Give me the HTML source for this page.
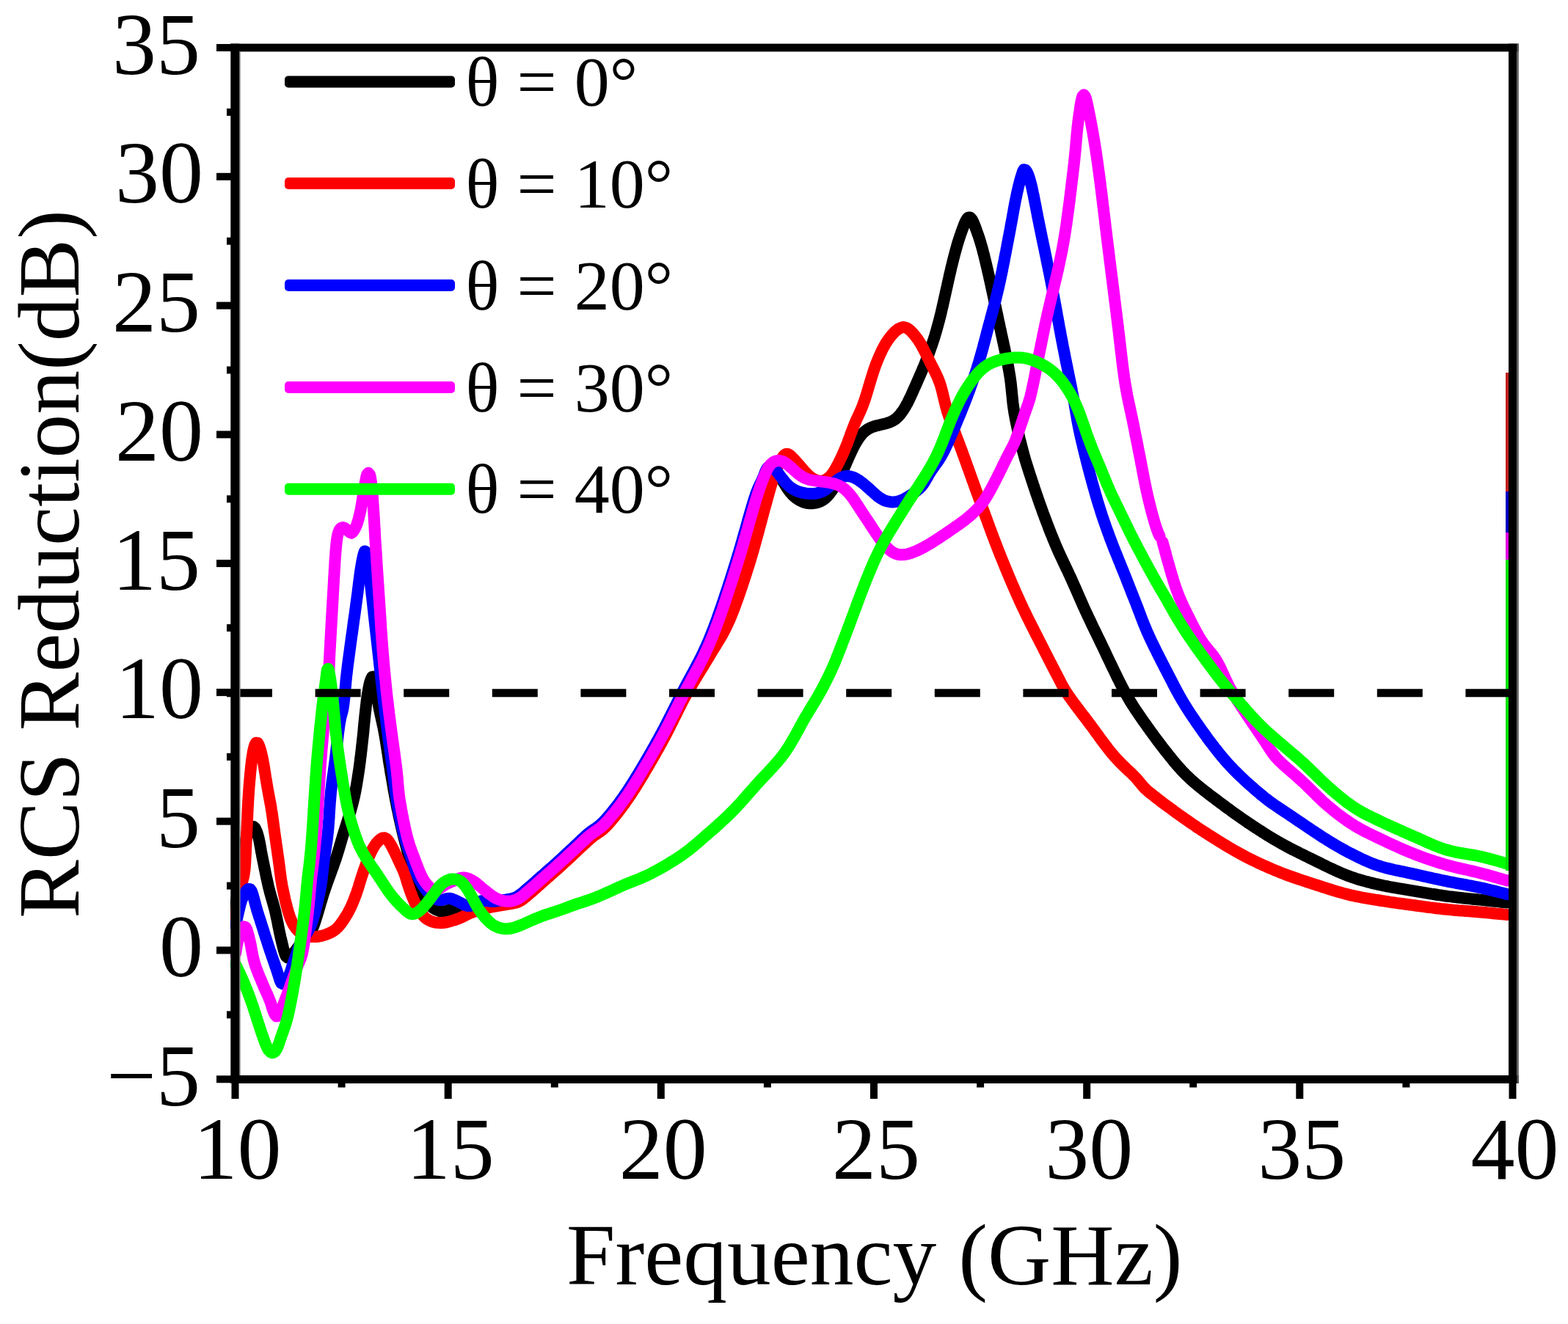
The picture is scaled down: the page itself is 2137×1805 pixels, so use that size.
<!DOCTYPE html>
<html><head><meta charset="utf-8"><title>RCS Reduction vs Frequency</title>
<style>html,body{margin:0;padding:0;background:#fff;}svg{display:block;}</style>
</head><body>
<svg xmlns="http://www.w3.org/2000/svg" width="2137" height="1805" viewBox="0 0 2137 1805">
<rect width="2137" height="1805" fill="#ffffff"/>
<defs><clipPath id="pc"><rect x="314" y="59" width="1753" height="1418"/></clipPath></defs>
<g clip-path="url(#pc)" fill="none" stroke-linejoin="round" stroke-linecap="round">
<path d="M321.0,1235.0 321.4,1232.0 321.9,1229.1 322.3,1226.1 322.8,1223.1 323.2,1220.2 323.6,1217.2 324.1,1214.2 324.5,1211.3 325.0,1208.3 325.4,1205.3 325.8,1202.4 326.3,1199.4 326.7,1196.4 327.2,1193.4 327.6,1190.5 328.1,1187.5 328.5,1184.5 328.9,1181.6 329.4,1178.6 329.9,1175.6 330.3,1172.7 330.8,1169.7 331.2,1166.8 331.7,1163.8 332.2,1160.8 332.7,1157.9 333.2,1154.9 333.7,1151.9 334.2,1149.0 334.8,1146.1 335.4,1143.1 336.1,1140.2 337.0,1137.4 338.1,1134.6 339.4,1131.9 341.0,1129.4 342.9,1127.2 345.6,1126.9 347.7,1129.0 349.0,1131.7 350.2,1134.5 351.1,1137.3 351.9,1140.2 352.7,1143.1 353.3,1146.0 353.9,1149.0 354.4,1151.9 355.0,1154.9 355.5,1157.8 356.0,1160.8 356.6,1163.7 357.1,1166.7 357.7,1169.6 358.3,1172.5 358.9,1175.5 359.5,1178.4 360.1,1181.4 360.7,1184.3 361.3,1187.2 361.9,1190.2 362.5,1193.1 363.1,1196.1 363.8,1199.0 364.4,1201.9 365.1,1204.9 365.7,1207.8 366.4,1210.7 367.2,1213.6 367.9,1216.5 368.7,1219.4 369.5,1222.3 370.4,1225.2 371.2,1228.0 372.0,1230.9 372.8,1233.8 373.6,1236.7 374.4,1239.6 375.1,1242.5 375.8,1245.5 376.4,1248.4 377.0,1251.3 377.7,1254.3 378.3,1257.2 378.8,1260.1 379.4,1263.1 380.0,1266.0 380.6,1269.0 381.2,1271.9 381.9,1274.8 382.5,1277.8 383.2,1280.7 383.9,1283.6 384.6,1286.5 385.3,1289.4 386.0,1292.4 386.8,1295.3 387.6,1298.1 388.5,1301.0 389.8,1303.7 392.0,1305.5 394.7,1304.7 397.0,1302.8 399.0,1300.7 400.9,1298.4 402.8,1296.0 404.5,1293.6 406.3,1291.2 408.0,1288.7 409.9,1286.4 411.8,1284.1 413.8,1281.9 415.9,1279.7 417.9,1277.4 419.8,1275.1 421.6,1272.8 423.3,1270.3 424.9,1267.8 426.2,1265.1 427.4,1262.4 428.4,1259.6 429.4,1256.7 430.3,1253.9 431.2,1251.0 432.1,1248.1 432.9,1245.3 433.8,1242.4 434.6,1239.5 435.5,1236.6 436.3,1233.7 437.1,1230.8 438.0,1228.0 438.9,1225.1 439.7,1222.2 440.6,1219.4 441.5,1216.5 442.5,1213.7 443.4,1210.8 444.4,1208.0 445.4,1205.1 446.4,1202.3 447.4,1199.5 448.4,1196.7 449.5,1193.8 450.5,1191.0 451.5,1188.2 452.5,1185.4 453.6,1182.6 454.6,1179.7 455.6,1176.9 456.6,1174.1 457.6,1171.3 458.5,1168.4 459.4,1165.6 460.3,1162.7 461.2,1159.8 462.1,1156.9 462.9,1154.1 463.7,1151.2 464.6,1148.3 465.4,1145.4 466.3,1142.5 467.1,1139.7 468.0,1136.8 468.9,1133.9 469.8,1131.1 470.7,1128.2 471.6,1125.4 472.5,1122.5 473.4,1119.6 474.4,1116.8 475.3,1113.9 476.1,1111.0 477.0,1108.2 477.9,1105.3 478.7,1102.4 479.5,1099.5 480.3,1096.6 481.0,1093.7 481.7,1090.8 482.4,1087.9 483.1,1085.0 483.7,1082.0 484.3,1079.1 484.8,1076.1 485.4,1073.2 485.9,1070.2 486.4,1067.3 486.9,1064.3 487.4,1061.3 487.8,1058.4 488.3,1055.4 488.7,1052.5 489.2,1049.5 489.6,1046.5 490.0,1043.5 490.4,1040.6 490.8,1037.6 491.1,1034.6 491.5,1031.6 491.9,1028.7 492.2,1025.7 492.6,1022.7 492.9,1019.7 493.2,1016.7 493.6,1013.7 493.9,1010.8 494.2,1007.8 494.6,1004.8 494.9,1001.8 495.2,998.8 495.5,995.8 495.7,992.9 496.0,989.9 496.3,986.9 496.6,983.9 496.9,980.9 497.2,977.9 497.5,974.9 497.8,972.0 498.2,969.0 498.5,966.0 498.8,963.0 499.2,960.0 499.5,957.1 499.9,954.1 500.3,951.1 500.7,948.1 501.2,945.2 501.7,942.2 502.2,939.3 502.8,936.3 503.4,933.4 504.1,930.5 505.0,927.7 506.0,925.1 507.2,922.8 508.8,922.5 510.0,924.7 510.9,927.4 511.6,930.3 512.1,933.2 512.6,936.2 513.0,939.1 513.3,942.1 513.7,945.1 514.0,948.1 514.4,951.0 514.8,954.0 515.2,957.0 515.7,960.0 516.2,962.9 516.8,965.9 517.4,968.8 518.0,971.7 518.6,974.7 519.3,977.6 519.9,980.5 520.6,983.5 521.2,986.4 521.9,989.3 522.5,992.3 523.1,995.2 523.6,998.1 524.2,1001.1 524.7,1004.0 525.2,1007.0 525.7,1010.0 526.2,1012.9 526.6,1015.9 527.1,1018.9 527.6,1021.8 528.0,1024.8 528.5,1027.7 528.9,1030.7 529.4,1033.7 529.8,1036.6 530.3,1039.6 530.8,1042.6 531.3,1045.5 531.8,1048.5 532.2,1051.5 532.7,1054.4 533.3,1057.4 533.8,1060.3 534.3,1063.3 534.8,1066.2 535.3,1069.2 535.8,1072.2 536.3,1075.1 536.8,1078.1 537.4,1081.0 537.9,1084.0 538.5,1086.9 539.0,1089.9 539.6,1092.8 540.2,1095.8 540.7,1098.7 541.3,1101.6 542.0,1104.6 542.6,1107.5 543.2,1110.4 543.8,1113.4 544.5,1116.3 545.1,1119.2 545.8,1122.2 546.5,1125.1 547.1,1128.0 547.8,1130.9 548.5,1133.9 549.2,1136.8 549.9,1139.7 550.6,1142.6 551.4,1145.5 552.1,1148.4 552.9,1151.3 553.6,1154.2 554.4,1157.1 555.1,1160.0 555.9,1162.9 556.7,1165.8 557.5,1168.7 558.3,1171.6 559.2,1174.5 560.0,1177.4 560.9,1180.2 561.8,1183.1 562.7,1186.0 563.6,1188.8 564.6,1191.7 565.6,1194.5 566.6,1197.3 567.6,1200.1 568.6,1202.9 569.7,1205.7 570.8,1208.5 572.0,1211.3 573.2,1214.0 574.4,1216.8 575.8,1219.5 577.2,1222.1 578.7,1224.7 580.3,1227.2 582.0,1229.7 583.9,1232.0 585.9,1234.2 588.1,1236.2 590.5,1238.0 593.0,1239.6 595.7,1240.8 598.5,1241.8 601.4,1242.4 604.3,1242.5 607.2,1242.2 610.0,1241.3 612.8,1240.3 615.5,1239.1 618.4,1238.2 621.3,1237.6 624.2,1237.2 627.2,1237.1 630.2,1237.1 633.2,1237.4 636.1,1237.8 639.1,1238.4 642.0,1239.0 644.9,1239.5 647.9,1239.7 650.9,1239.6 653.8,1239.2 656.7,1238.6 659.7,1237.9 662.5,1237.0 665.4,1236.1 668.2,1235.1 671.0,1234.0 673.8,1232.9 676.6,1232.0 679.5,1231.1 682.4,1230.4 685.3,1229.8 688.3,1229.2 691.2,1228.7 694.2,1228.2 697.1,1227.6 700.0,1226.9 702.8,1225.8 705.4,1224.5 707.9,1222.8 710.3,1221.0 712.6,1219.1 714.9,1217.2 717.2,1215.3 719.5,1213.3 721.7,1211.4 724.0,1209.4 726.3,1207.4 728.5,1205.4 730.7,1203.4 733.0,1201.4 735.2,1199.4 737.5,1197.4 739.7,1195.5 742.0,1193.5 744.2,1191.5 746.5,1189.5 748.7,1187.5 751.0,1185.6 753.2,1183.6 755.5,1181.6 757.7,1179.6 760.0,1177.6 762.2,1175.5 764.4,1173.5 766.6,1171.5 768.8,1169.4 771.0,1167.4 773.2,1165.3 775.4,1163.3 777.6,1161.2 779.7,1159.2 781.9,1157.1 784.1,1155.1 786.3,1153.0 788.5,1151.0 790.7,1148.9 792.9,1146.9 795.0,1144.8 797.3,1142.8 799.5,1140.8 801.8,1138.8 804.1,1137.0 806.5,1135.2 809.0,1133.5 811.5,1131.8 813.9,1130.1 816.3,1128.3 818.6,1126.4 820.8,1124.4 822.9,1122.3 824.9,1120.1 826.9,1117.8 828.9,1115.6 830.8,1113.3 832.7,1111.0 834.6,1108.6 836.5,1106.3 838.4,1103.9 840.2,1101.6 842.0,1099.2 843.8,1096.8 845.6,1094.4 847.3,1091.9 849.1,1089.5 850.8,1087.0 852.5,1084.5 854.2,1082.1 855.8,1079.6 857.5,1077.1 859.1,1074.5 860.7,1072.0 862.3,1069.5 863.9,1066.9 865.5,1064.4 867.1,1061.8 868.6,1059.3 870.2,1056.7 871.7,1054.1 873.3,1051.5 874.8,1049.0 876.3,1046.4 877.8,1043.8 879.4,1041.2 880.9,1038.6 882.4,1036.0 883.9,1033.4 885.4,1030.8 886.9,1028.2 888.4,1025.6 889.8,1023.0 891.3,1020.4 892.8,1017.8 894.3,1015.2 895.7,1012.5 897.2,1009.9 898.6,1007.3 900.1,1004.6 901.5,1002.0 902.9,999.4 904.3,996.7 905.7,994.1 907.1,991.4 908.5,988.7 909.8,986.1 911.2,983.4 912.5,980.7 913.9,978.0 915.2,975.3 916.6,972.7 917.9,970.0 919.3,967.3 920.6,964.6 921.9,961.9 923.3,959.2 924.6,956.6 926.0,953.9 927.3,951.2 928.7,948.5 930.1,945.9 931.5,943.2 932.9,940.5 934.3,937.9 935.7,935.3 937.1,932.6 938.5,930.0 940.0,927.3 941.4,924.7 942.9,922.1 944.3,919.4 945.7,916.8 947.1,914.2 948.6,911.5 950.0,908.9 951.4,906.2 952.7,903.5 954.1,900.9 955.4,898.2 956.7,895.5 958.0,892.8 959.3,890.1 960.6,887.3 961.8,884.6 963.1,881.9 964.3,879.1 965.5,876.4 966.6,873.6 967.8,870.8 968.9,868.1 970.0,865.3 971.1,862.5 972.2,859.7 973.3,856.9 974.3,854.1 975.3,851.2 976.4,848.4 977.4,845.6 978.4,842.8 979.4,840.0 980.4,837.1 981.4,834.3 982.4,831.5 983.4,828.6 984.3,825.8 985.3,822.9 986.2,820.1 987.2,817.3 988.2,814.4 989.1,811.6 990.0,808.7 991.0,805.9 991.9,803.0 992.8,800.2 993.8,797.3 994.7,794.4 995.6,791.6 996.5,788.7 997.4,785.9 998.3,783.0 999.2,780.2 1000.1,777.3 1001.0,774.4 1001.9,771.6 1002.8,768.7 1003.7,765.8 1004.6,763.0 1005.5,760.1 1006.3,757.2 1007.2,754.3 1008.0,751.5 1008.9,748.6 1009.7,745.7 1010.5,742.8 1011.3,739.9 1012.1,737.0 1013.0,734.1 1013.8,731.3 1014.6,728.4 1015.4,725.5 1016.2,722.6 1017.0,719.7 1017.8,716.8 1018.6,713.9 1019.4,711.0 1020.2,708.1 1021.0,705.2 1021.9,702.4 1022.7,699.5 1023.5,696.6 1024.4,693.7 1025.3,690.9 1026.1,688.0 1027.1,685.1 1028.0,682.3 1029.0,679.5 1030.0,676.6 1031.1,673.8 1032.2,671.1 1033.4,668.3 1034.7,665.6 1036.1,663.0 1037.5,660.4 1039.1,657.8 1040.6,655.2 1042.2,652.7 1043.9,650.2 1045.6,647.9 1047.4,645.9 1049.3,644.3 1051.3,643.3 1053.5,643.1 1055.7,643.6 1057.9,644.8 1059.9,646.5 1061.8,648.6 1063.6,650.9 1065.3,653.4 1066.9,655.9 1068.4,658.5 1070.0,661.0 1071.6,663.6 1073.2,666.1 1074.9,668.5 1076.7,670.9 1078.7,673.1 1080.7,675.3 1082.9,677.3 1085.2,679.1 1087.6,680.8 1090.2,682.3 1092.8,683.6 1095.6,684.7 1098.4,685.5 1101.3,686.0 1104.2,686.3 1107.1,686.2 1110.0,685.9 1112.9,685.3 1115.7,684.5 1118.4,683.4 1121.0,682.0 1123.4,680.4 1125.6,678.5 1127.7,676.4 1129.7,674.2 1131.5,671.9 1133.3,669.5 1135.0,667.0 1136.6,664.5 1138.2,661.9 1139.8,659.4 1141.2,656.8 1142.7,654.1 1144.1,651.5 1145.4,648.8 1146.8,646.1 1148.0,643.4 1149.3,640.7 1150.5,637.9 1151.7,635.2 1152.9,632.5 1154.1,629.7 1155.3,627.0 1156.5,624.2 1157.7,621.5 1159.0,618.7 1160.2,616.0 1161.5,613.3 1162.8,610.6 1164.2,607.9 1165.6,605.3 1167.1,602.7 1168.7,600.1 1170.3,597.7 1172.1,595.2 1173.9,592.9 1175.9,590.7 1178.0,588.6 1180.3,586.8 1182.7,585.1 1185.3,583.7 1187.9,582.5 1190.7,581.5 1193.6,580.6 1196.4,579.9 1199.4,579.2 1202.3,578.5 1205.2,577.9 1208.1,577.1 1210.9,576.2 1213.7,575.2 1216.3,573.9 1218.8,572.4 1221.2,570.7 1223.4,568.7 1225.4,566.6 1227.3,564.3 1229.1,561.9 1230.8,559.5 1232.4,557.0 1234.0,554.4 1235.4,551.8 1236.9,549.2 1238.2,546.5 1239.5,543.8 1240.8,541.1 1242.1,538.4 1243.3,535.6 1244.5,532.9 1245.7,530.1 1247.0,527.4 1248.2,524.6 1249.4,521.9 1250.6,519.1 1251.8,516.4 1253.0,513.6 1254.2,510.9 1255.4,508.1 1256.6,505.4 1257.7,502.6 1258.9,499.9 1260.1,497.1 1261.2,494.3 1262.3,491.5 1263.4,488.7 1264.5,485.9 1265.5,483.1 1266.5,480.3 1267.5,477.5 1268.5,474.6 1269.5,471.8 1270.5,469.0 1271.4,466.1 1272.4,463.3 1273.3,460.4 1274.2,457.6 1275.0,454.7 1275.9,451.8 1276.7,448.9 1277.5,446.0 1278.3,443.1 1279.1,440.2 1279.9,437.3 1280.6,434.4 1281.3,431.5 1282.1,428.6 1282.8,425.7 1283.4,422.8 1284.1,419.9 1284.8,416.9 1285.5,414.0 1286.1,411.1 1286.8,408.1 1287.4,405.2 1288.1,402.3 1288.7,399.4 1289.4,396.4 1290.0,393.5 1290.7,390.6 1291.3,387.6 1292.0,384.7 1292.6,381.8 1293.3,378.9 1293.9,375.9 1294.6,373.0 1295.3,370.1 1296.0,367.2 1296.6,364.2 1297.4,361.3 1298.1,358.4 1298.8,355.5 1299.5,352.6 1300.3,349.7 1301.0,346.8 1301.8,343.9 1302.6,341.0 1303.4,338.1 1304.2,335.2 1305.0,332.3 1305.9,329.5 1306.8,326.6 1307.8,323.7 1308.7,320.9 1309.7,318.1 1310.7,315.2 1311.7,312.4 1312.8,309.6 1313.8,306.8 1315.0,304.0 1316.2,301.3 1317.7,298.7 1319.7,296.5 1322.4,296.6 1324.4,298.8 1325.8,301.4 1327.1,304.2 1328.2,306.9 1329.3,309.7 1330.3,312.6 1331.3,315.4 1332.3,318.2 1333.3,321.0 1334.3,323.9 1335.2,326.7 1336.1,329.6 1336.9,332.5 1337.8,335.4 1338.6,338.3 1339.4,341.1 1340.1,344.1 1340.9,347.0 1341.6,349.9 1342.3,352.8 1343.0,355.7 1343.7,358.6 1344.4,361.5 1345.1,364.5 1345.8,367.4 1346.4,370.3 1347.1,373.2 1347.8,376.2 1348.4,379.1 1349.1,382.0 1349.7,384.9 1350.4,387.9 1351.0,390.8 1351.6,393.7 1352.3,396.7 1352.9,399.6 1353.5,402.5 1354.2,405.5 1354.8,408.4 1355.4,411.3 1356.0,414.3 1356.7,417.2 1357.3,420.1 1357.9,423.1 1358.5,426.0 1359.2,428.9 1359.8,431.9 1360.4,434.8 1361.0,437.8 1361.7,440.7 1362.3,443.6 1362.9,446.6 1363.6,449.5 1364.2,452.4 1364.8,455.4 1365.5,458.3 1366.1,461.2 1366.7,464.1 1367.4,467.1 1368.0,470.0 1368.6,472.9 1369.3,475.9 1369.9,478.8 1370.5,481.8 1371.1,484.7 1371.7,487.6 1372.3,490.6 1372.9,493.5 1373.5,496.5 1374.0,499.4 1374.6,502.4 1375.1,505.3 1375.6,508.3 1376.1,511.2 1376.6,514.2 1377.0,517.2 1377.4,520.1 1377.8,523.1 1378.1,526.1 1378.4,529.1 1378.7,532.1 1379.0,535.0 1379.3,538.0 1379.6,541.0 1379.9,544.0 1380.2,547.0 1380.5,550.0 1380.9,552.9 1381.3,555.9 1381.8,558.9 1382.2,561.8 1382.7,564.8 1383.3,567.7 1383.8,570.7 1384.4,573.6 1385.0,576.6 1385.6,579.5 1386.2,582.5 1386.9,585.4 1387.5,588.3 1388.2,591.2 1388.9,594.2 1389.5,597.1 1390.2,600.0 1391.0,602.9 1391.7,605.8 1392.4,608.7 1393.2,611.6 1393.9,614.5 1394.7,617.4 1395.5,620.3 1396.3,623.2 1397.1,626.1 1398.0,629.0 1398.9,631.9 1399.8,634.7 1400.7,637.6 1401.6,640.4 1402.5,643.3 1403.4,646.1 1404.4,649.0 1405.3,651.8 1406.2,654.7 1407.2,657.5 1408.1,660.4 1409.1,663.2 1410.0,666.1 1411.0,668.9 1411.9,671.8 1412.9,674.6 1413.9,677.4 1414.9,680.3 1415.9,683.1 1416.8,685.9 1417.9,688.8 1418.9,691.6 1419.9,694.4 1420.9,697.2 1421.9,700.1 1423.0,702.9 1424.0,705.7 1425.1,708.5 1426.1,711.3 1427.2,714.1 1428.3,716.9 1429.3,719.7 1430.4,722.5 1431.5,725.3 1432.6,728.1 1433.8,730.9 1434.9,733.7 1436.0,736.4 1437.2,739.2 1438.3,742.0 1439.5,744.7 1440.7,747.5 1441.9,750.2 1443.1,753.0 1444.4,755.7 1445.6,758.4 1446.9,761.1 1448.2,763.9 1449.4,766.6 1450.7,769.3 1452.0,772.0 1453.3,774.7 1454.6,777.4 1455.9,780.1 1457.1,782.9 1458.4,785.6 1459.6,788.3 1460.9,791.0 1462.1,793.8 1463.3,796.5 1464.5,799.3 1465.8,802.0 1467.0,804.8 1468.2,807.5 1469.4,810.3 1470.6,813.0 1471.8,815.8 1473.0,818.5 1474.2,821.2 1475.4,824.0 1476.6,826.7 1477.9,829.5 1479.1,832.2 1480.4,834.9 1481.6,837.6 1482.9,840.4 1484.2,843.1 1485.5,845.8 1486.8,848.5 1488.0,851.2 1489.3,853.9 1490.6,856.6 1491.9,859.3 1493.3,862.0 1494.6,864.7 1495.9,867.4 1497.2,870.1 1498.5,872.8 1499.8,875.5 1501.1,878.2 1502.4,880.9 1503.7,883.6 1505.0,886.3 1506.3,889.0 1507.6,891.8 1508.8,894.5 1510.1,897.2 1511.4,899.9 1512.7,902.6 1514.0,905.3 1515.3,908.0 1516.6,910.7 1517.9,913.4 1519.2,916.1 1520.5,918.8 1521.8,921.5 1523.1,924.2 1524.5,926.9 1525.8,929.6 1527.2,932.3 1528.5,934.9 1529.9,937.6 1531.3,940.2 1532.7,942.9 1534.2,945.5 1535.7,948.1 1537.2,950.7 1538.7,953.3 1540.2,955.9 1541.8,958.4 1543.4,961.0 1545.0,963.5 1546.6,966.0 1548.3,968.5 1550.0,971.0 1551.7,973.5 1553.4,976.0 1555.1,978.4 1556.8,980.9 1558.5,983.3 1560.3,985.8 1562.0,988.2 1563.7,990.7 1565.5,993.1 1567.2,995.6 1569.0,998.0 1570.7,1000.4 1572.5,1002.9 1574.3,1005.3 1576.1,1007.7 1577.9,1010.1 1579.7,1012.5 1581.5,1014.9 1583.3,1017.3 1585.1,1019.6 1587.0,1022.0 1588.8,1024.4 1590.7,1026.7 1592.6,1029.1 1594.4,1031.4 1596.3,1033.7 1598.2,1036.1 1600.1,1038.4 1602.1,1040.7 1604.0,1042.9 1606.0,1045.2 1608.0,1047.4 1610.0,1049.7 1612.0,1051.9 1614.1,1054.0 1616.2,1056.2 1618.4,1058.3 1620.5,1060.3 1622.7,1062.4 1624.9,1064.4 1627.2,1066.4 1629.5,1068.3 1631.8,1070.3 1634.1,1072.2 1636.4,1074.1 1638.8,1075.9 1641.1,1077.8 1643.5,1079.6 1645.9,1081.4 1648.2,1083.3 1650.6,1085.1 1653.0,1086.9 1655.4,1088.7 1657.8,1090.5 1660.2,1092.3 1662.6,1094.2 1665.0,1095.9 1667.4,1097.7 1669.8,1099.5 1672.2,1101.3 1674.7,1103.1 1677.1,1104.8 1679.5,1106.6 1681.9,1108.4 1684.4,1110.1 1686.8,1111.8 1689.3,1113.6 1691.7,1115.3 1694.2,1117.0 1696.7,1118.7 1699.2,1120.4 1701.6,1122.1 1704.1,1123.7 1706.6,1125.4 1709.1,1127.1 1711.6,1128.7 1714.2,1130.3 1716.7,1132.0 1719.2,1133.6 1721.7,1135.2 1724.3,1136.8 1726.8,1138.4 1729.4,1140.0 1731.9,1141.5 1734.5,1143.1 1737.1,1144.6 1739.7,1146.1 1742.3,1147.6 1744.9,1149.1 1747.5,1150.6 1750.1,1152.0 1752.8,1153.5 1755.4,1154.9 1758.1,1156.3 1760.7,1157.7 1763.4,1159.0 1766.1,1160.4 1768.7,1161.7 1771.4,1163.1 1774.1,1164.4 1776.8,1165.7 1779.5,1167.1 1782.2,1168.4 1784.9,1169.7 1787.6,1171.0 1790.3,1172.3 1793.0,1173.7 1795.7,1175.0 1798.4,1176.3 1801.0,1177.6 1803.7,1179.0 1806.4,1180.3 1809.1,1181.6 1811.8,1182.9 1814.5,1184.2 1817.3,1185.4 1820.0,1186.7 1822.7,1187.9 1825.5,1189.2 1828.2,1190.3 1831.0,1191.5 1833.8,1192.6 1836.6,1193.7 1839.4,1194.8 1842.2,1195.8 1845.0,1196.7 1847.9,1197.7 1850.7,1198.6 1853.6,1199.5 1856.5,1200.3 1859.4,1201.1 1862.3,1201.9 1865.2,1202.6 1868.1,1203.4 1871.0,1204.1 1873.9,1204.8 1876.8,1205.4 1879.8,1206.1 1882.7,1206.7 1885.6,1207.4 1888.6,1208.0 1891.5,1208.5 1894.5,1209.1 1897.4,1209.6 1900.4,1210.2 1903.3,1210.7 1906.3,1211.2 1909.3,1211.6 1912.2,1212.1 1915.2,1212.6 1918.1,1213.1 1921.1,1213.6 1924.1,1214.1 1927.0,1214.6 1930.0,1215.1 1932.9,1215.6 1935.9,1216.1 1938.9,1216.6 1941.8,1217.1 1944.8,1217.6 1947.7,1218.1 1950.7,1218.6 1953.7,1219.0 1956.6,1219.5 1959.6,1220.0 1962.5,1220.4 1965.5,1220.8 1968.5,1221.3 1971.5,1221.7 1974.4,1222.1 1977.4,1222.4 1980.4,1222.8 1983.4,1223.1 1986.4,1223.5 1989.3,1223.8 1992.3,1224.1 1995.3,1224.5 1998.3,1224.8 2001.3,1225.1 2004.3,1225.4 2007.2,1225.7 2010.2,1226.0 2013.2,1226.3 2016.2,1226.6 2019.2,1226.9 2022.2,1227.2 2025.1,1227.6 2028.1,1227.9 2031.1,1228.2 2034.1,1228.5 2037.1,1228.8 2040.1,1229.1 2043.1,1229.4 2046.0,1229.7 2049.0,1230.0 2052.0,1230.3 2054.0,1230.5" stroke="#000000" stroke-width="16"/>
<path d="M321.0,1250.0 321.4,1247.0 321.8,1244.1 322.2,1241.1 322.5,1238.1 322.9,1235.1 323.3,1232.2 323.7,1229.2 324.2,1226.2 324.6,1223.2 325.1,1220.3 325.6,1217.3 326.2,1214.4 327.0,1211.5 327.8,1208.6 328.8,1205.8 329.8,1203.0 330.7,1200.1 331.5,1197.2 332.2,1194.3 332.7,1191.4 333.1,1188.4 333.5,1185.4 333.8,1182.4 334.0,1179.4 334.2,1176.4 334.4,1173.4 334.5,1170.5 334.7,1167.5 334.8,1164.5 335.0,1161.5 335.1,1158.5 335.2,1155.5 335.4,1152.5 335.5,1149.5 335.6,1146.5 335.8,1143.5 335.9,1140.5 336.1,1137.5 336.2,1134.5 336.4,1131.5 336.5,1128.5 336.7,1125.5 336.8,1122.5 336.9,1119.5 337.1,1116.5 337.2,1113.5 337.3,1110.5 337.5,1107.5 337.6,1104.5 337.7,1101.5 337.9,1098.5 338.1,1095.5 338.2,1092.5 338.4,1089.5 338.6,1086.5 338.8,1083.6 339.0,1080.6 339.2,1077.6 339.4,1074.6 339.6,1071.6 339.9,1068.6 340.1,1065.6 340.4,1062.6 340.7,1059.6 340.9,1056.6 341.2,1053.7 341.5,1050.7 341.8,1047.7 342.1,1044.7 342.5,1041.7 342.8,1038.7 343.2,1035.8 343.6,1032.8 344.1,1029.8 344.6,1026.9 345.1,1023.9 345.8,1021.0 346.5,1018.1 347.4,1015.3 348.9,1012.7 351.3,1013.0 352.7,1015.6 353.8,1018.4 354.7,1021.2 355.5,1024.1 356.2,1027.0 356.9,1029.9 357.6,1032.9 358.2,1035.8 358.7,1038.7 359.3,1041.7 359.8,1044.7 360.2,1047.6 360.7,1050.6 361.2,1053.5 361.7,1056.5 362.1,1059.5 362.6,1062.4 363.1,1065.4 363.6,1068.4 364.1,1071.3 364.6,1074.3 365.1,1077.2 365.7,1080.2 366.2,1083.1 366.8,1086.1 367.3,1089.0 367.9,1092.0 368.4,1094.9 369.0,1097.9 369.5,1100.8 369.9,1103.8 370.4,1106.7 370.9,1109.7 371.3,1112.7 371.7,1115.7 372.1,1118.6 372.5,1121.6 372.9,1124.6 373.3,1127.5 373.7,1130.5 374.1,1133.5 374.5,1136.5 374.9,1139.4 375.3,1142.4 375.8,1145.4 376.2,1148.4 376.6,1151.3 377.0,1154.3 377.5,1157.3 377.9,1160.2 378.3,1163.2 378.7,1166.2 379.2,1169.1 379.6,1172.1 380.0,1175.1 380.4,1178.1 380.8,1181.0 381.2,1184.0 381.5,1187.0 381.9,1190.0 382.3,1192.9 382.7,1195.9 383.1,1198.9 383.6,1201.8 384.1,1204.8 384.6,1207.8 385.2,1210.7 385.8,1213.6 386.4,1216.6 387.0,1219.5 387.7,1222.4 388.3,1225.4 389.0,1228.3 389.7,1231.2 390.5,1234.1 391.2,1237.0 392.0,1239.9 392.8,1242.8 393.7,1245.7 394.6,1248.5 395.6,1251.4 396.7,1254.1 397.9,1256.9 399.2,1259.5 400.7,1262.1 402.4,1264.6 404.3,1266.9 406.4,1269.0 408.6,1271.0 411.1,1272.7 413.7,1274.1 416.4,1275.2 419.3,1276.1 422.2,1276.7 425.1,1277.0 428.1,1277.1 431.1,1277.0 434.1,1276.7 437.0,1276.2 439.9,1275.4 442.8,1274.6 445.6,1273.5 448.3,1272.4 451.1,1271.1 453.7,1269.7 456.2,1268.0 458.5,1266.2 460.6,1264.1 462.5,1261.8 464.4,1259.5 466.2,1257.0 467.9,1254.6 469.5,1252.1 471.1,1249.5 472.7,1247.0 474.2,1244.4 475.6,1241.7 477.0,1239.1 478.3,1236.4 479.5,1233.7 480.7,1230.9 481.9,1228.1 483.0,1225.3 484.0,1222.5 485.1,1219.7 486.1,1216.9 487.0,1214.0 488.0,1211.2 488.9,1208.3 489.7,1205.5 490.6,1202.6 491.5,1199.7 492.4,1196.9 493.3,1194.0 494.3,1191.2 495.2,1188.3 496.2,1185.5 497.2,1182.7 498.2,1179.8 499.3,1177.0 500.3,1174.2 501.5,1171.4 502.6,1168.7 503.8,1165.9 505.0,1163.2 506.3,1160.5 507.7,1157.8 509.1,1155.2 510.7,1152.7 512.5,1150.2 514.4,1147.9 516.4,1145.8 518.7,1143.9 521.3,1142.4 524.2,1142.2 526.8,1143.6 528.9,1145.8 530.6,1148.2 532.2,1150.7 533.6,1153.3 535.0,1156.0 536.4,1158.7 537.7,1161.4 539.0,1164.1 540.3,1166.8 541.6,1169.5 542.8,1172.2 544.1,1174.9 545.3,1177.7 546.6,1180.4 547.9,1183.1 549.2,1185.8 550.3,1188.6 551.4,1191.4 552.4,1194.2 553.3,1197.1 554.1,1199.9 555.0,1202.8 555.9,1205.7 556.9,1208.5 557.8,1211.3 558.8,1214.2 559.8,1217.0 560.9,1219.8 562.0,1222.6 563.1,1225.4 564.3,1228.2 565.5,1230.9 566.9,1233.5 568.3,1236.2 569.9,1238.8 571.5,1241.3 573.1,1243.8 574.9,1246.2 576.9,1248.4 578.9,1250.6 581.2,1252.5 583.7,1254.1 586.3,1255.4 589.1,1256.5 592.0,1257.3 594.9,1257.8 597.9,1258.1 600.9,1258.2 603.8,1258.0 606.8,1257.5 609.7,1257.0 612.6,1256.3 615.5,1255.4 618.4,1254.6 621.2,1253.6 624.1,1252.6 626.8,1251.5 629.6,1250.3 632.3,1249.0 634.9,1247.6 637.6,1246.3 640.3,1245.0 643.1,1243.9 645.9,1242.9 648.8,1241.9 651.6,1241.0 654.5,1240.2 657.4,1239.4 660.3,1238.6 663.2,1237.9 666.1,1237.3 669.1,1236.6 672.0,1236.0 675.0,1235.5 677.9,1235.0 680.9,1234.5 683.8,1234.0 686.8,1233.5 689.8,1233.0 692.7,1232.5 695.7,1232.1 698.6,1231.6 701.6,1231.0 704.4,1230.2 707.2,1229.1 709.8,1227.7 712.3,1226.1 714.6,1224.3 717.0,1222.4 719.3,1220.4 721.5,1218.5 723.8,1216.5 726.1,1214.6 728.3,1212.6 730.6,1210.6 732.8,1208.6 735.1,1206.6 737.3,1204.6 739.6,1202.6 741.8,1200.6 744.1,1198.7 746.3,1196.7 748.6,1194.7 750.8,1192.7 753.1,1190.7 755.3,1188.8 757.6,1186.8 759.8,1184.8 762.1,1182.8 764.3,1180.8 766.5,1178.7 768.7,1176.7 770.9,1174.7 773.1,1172.6 775.3,1170.6 777.5,1168.5 779.7,1166.5 781.9,1164.4 784.1,1162.4 786.3,1160.3 788.4,1158.3 790.6,1156.2 792.8,1154.2 795.0,1152.1 797.2,1150.1 799.4,1148.0 801.6,1146.0 803.8,1144.0 806.1,1142.1 808.5,1140.2 810.9,1138.4 813.3,1136.7 815.8,1135.1 818.3,1133.4 820.6,1131.6 822.9,1129.6 825.1,1127.6 827.2,1125.5 829.2,1123.2 831.2,1121.0 833.2,1118.7 835.1,1116.4 837.0,1114.1 838.9,1111.8 840.8,1109.5 842.6,1107.1 844.5,1104.7 846.3,1102.3 848.1,1099.9 849.8,1097.5 851.6,1095.1 853.3,1092.6 855.0,1090.2 856.7,1087.7 858.4,1085.2 860.1,1082.7 861.7,1080.2 863.3,1077.7 865.0,1075.1 866.6,1072.6 868.1,1070.1 869.7,1067.5 871.3,1065.0 872.8,1062.4 874.4,1059.8 875.9,1057.3 877.5,1054.7 879.0,1052.1 880.5,1049.5 882.1,1046.9 883.6,1044.3 885.1,1041.7 886.6,1039.1 888.1,1036.6 889.6,1034.0 891.1,1031.3 892.6,1028.7 894.0,1026.1 895.5,1023.5 897.0,1020.9 898.5,1018.3 899.9,1015.7 901.4,1013.0 902.8,1010.4 904.2,1007.8 905.7,1005.1 907.1,1002.5 908.5,999.8 909.8,997.2 911.2,994.5 912.5,991.8 913.9,989.1 915.2,986.4 916.6,983.8 917.9,981.1 919.2,978.4 920.6,975.7 921.9,973.0 923.2,970.3 924.6,967.6 925.9,965.0 927.3,962.3 928.6,959.6 930.0,956.9 931.4,954.3 932.8,951.6 934.3,949.0 935.7,946.4 937.2,943.8 938.7,941.2 940.2,938.6 941.7,936.0 943.2,933.4 944.7,930.8 946.3,928.2 947.8,925.7 949.4,923.1 950.9,920.5 952.5,918.0 954.1,915.4 955.6,912.9 957.2,910.3 958.8,907.7 960.3,905.2 961.9,902.6 963.4,900.0 965.0,897.5 966.5,894.9 968.0,892.3 969.6,889.7 971.1,887.2 972.7,884.6 974.3,882.1 975.9,879.5 977.4,877.0 979.0,874.4 980.6,871.8 982.1,869.2 983.6,866.7 985.0,864.0 986.5,861.4 987.9,858.7 989.2,856.1 990.5,853.4 991.8,850.7 993.0,847.9 994.3,845.2 995.4,842.4 996.6,839.7 997.7,836.9 998.8,834.1 999.9,831.3 1001.0,828.5 1002.0,825.7 1003.0,822.9 1004.1,820.0 1005.1,817.2 1006.1,814.4 1007.1,811.6 1008.1,808.7 1009.0,805.9 1010.0,803.0 1011.0,800.2 1011.9,797.4 1012.9,794.5 1013.8,791.7 1014.7,788.8 1015.7,786.0 1016.6,783.1 1017.5,780.2 1018.4,777.4 1019.3,774.5 1020.2,771.7 1021.1,768.8 1022.0,765.9 1022.9,763.1 1023.7,760.2 1024.6,757.3 1025.4,754.4 1026.3,751.6 1027.1,748.7 1027.9,745.8 1028.7,742.9 1029.5,740.0 1030.3,737.1 1031.1,734.2 1031.9,731.3 1032.7,728.4 1033.5,725.5 1034.3,722.6 1035.0,719.7 1035.8,716.8 1036.6,713.9 1037.4,711.0 1038.1,708.1 1038.9,705.2 1039.7,702.3 1040.4,699.4 1041.2,696.6 1042.0,693.7 1042.8,690.8 1043.6,687.9 1044.4,685.0 1045.2,682.1 1046.0,679.2 1046.8,676.3 1047.6,673.4 1048.4,670.5 1049.2,667.6 1050.0,664.8 1050.9,661.9 1051.7,659.0 1052.5,656.1 1053.4,653.2 1054.3,650.4 1055.3,647.6 1056.3,644.7 1057.4,641.9 1058.5,639.2 1059.7,636.4 1060.9,633.7 1062.2,631.0 1063.6,628.3 1065.1,625.7 1066.7,623.2 1068.6,620.9 1070.9,619.1 1073.8,619.0 1076.4,620.5 1078.6,622.5 1080.7,624.6 1082.8,626.8 1084.8,628.9 1086.8,631.2 1088.8,633.4 1090.7,635.7 1092.7,638.0 1094.6,640.2 1096.6,642.5 1098.7,644.7 1100.8,646.8 1103.0,648.8 1105.3,650.7 1107.7,652.3 1110.2,653.7 1112.8,654.8 1115.5,655.5 1118.3,655.7 1121.0,655.4 1123.7,654.7 1126.2,653.5 1128.5,651.9 1130.7,650.0 1132.7,647.9 1134.5,645.5 1136.2,643.1 1137.8,640.6 1139.3,638.0 1140.7,635.3 1142.1,632.7 1143.5,630.0 1144.8,627.3 1146.1,624.6 1147.4,621.9 1148.6,619.2 1149.8,616.4 1151.0,613.7 1152.2,610.9 1153.3,608.1 1154.4,605.4 1155.5,602.6 1156.5,599.7 1157.6,596.9 1158.6,594.1 1159.6,591.3 1160.7,588.5 1161.7,585.7 1162.8,582.9 1163.9,580.1 1165.0,577.3 1166.2,574.5 1167.4,571.8 1168.7,569.1 1169.9,566.4 1171.2,563.6 1172.4,560.9 1173.6,558.2 1174.8,555.4 1175.9,552.6 1176.9,549.8 1177.9,547.0 1178.9,544.1 1179.8,541.3 1180.7,538.4 1181.6,535.5 1182.4,532.7 1183.3,529.8 1184.1,526.9 1185.0,524.0 1185.8,521.2 1186.7,518.3 1187.6,515.4 1188.5,512.6 1189.4,509.7 1190.3,506.8 1191.2,504.0 1192.2,501.2 1193.2,498.3 1194.3,495.5 1195.4,492.7 1196.5,490.0 1197.7,487.2 1198.9,484.4 1200.1,481.7 1201.4,479.0 1202.7,476.3 1204.1,473.7 1205.5,471.0 1207.0,468.4 1208.6,465.9 1210.3,463.4 1212.1,461.0 1213.9,458.6 1215.8,456.3 1217.8,454.1 1219.9,452.0 1222.2,450.1 1224.6,448.4 1227.3,447.0 1230.1,446.1 1233.1,446.2 1235.9,447.2 1238.4,448.8 1240.7,450.7 1242.8,452.8 1244.8,455.1 1246.8,457.4 1248.6,459.7 1250.4,462.1 1252.1,464.6 1253.7,467.1 1255.3,469.6 1256.7,472.3 1258.1,474.9 1259.5,477.6 1260.8,480.2 1262.1,482.9 1263.5,485.6 1264.8,488.3 1266.1,491.0 1267.5,493.7 1268.8,496.4 1270.2,499.0 1271.6,501.7 1273.0,504.4 1274.3,507.0 1275.6,509.7 1276.9,512.5 1278.1,515.2 1279.2,518.0 1280.3,520.8 1281.3,523.6 1282.2,526.4 1283.0,529.3 1283.8,532.2 1284.5,535.1 1285.2,538.0 1285.9,541.0 1286.6,543.9 1287.3,546.8 1288.0,549.7 1288.7,552.6 1289.5,555.5 1290.3,558.4 1291.1,561.3 1292.1,564.1 1293.0,567.0 1294.0,569.8 1295.0,572.6 1296.0,575.5 1297.1,578.3 1298.1,581.1 1299.2,583.9 1300.3,586.7 1301.4,589.5 1302.4,592.3 1303.5,595.1 1304.6,597.9 1305.6,600.7 1306.7,603.5 1307.7,606.3 1308.8,609.1 1309.8,611.9 1310.9,614.7 1311.9,617.6 1312.9,620.4 1314.0,623.2 1315.0,626.0 1316.0,628.8 1317.0,631.7 1318.0,634.5 1319.0,637.3 1320.1,640.1 1321.1,643.0 1322.1,645.8 1323.1,648.6 1324.1,651.4 1325.1,654.3 1326.2,657.1 1327.2,659.9 1328.2,662.7 1329.2,665.5 1330.2,668.4 1331.3,671.2 1332.3,674.0 1333.3,676.8 1334.3,679.6 1335.4,682.5 1336.4,685.3 1337.4,688.1 1338.5,690.9 1339.5,693.7 1340.5,696.5 1341.6,699.4 1342.6,702.2 1343.6,705.0 1344.7,707.8 1345.7,710.6 1346.7,713.4 1347.8,716.3 1348.8,719.1 1349.8,721.9 1350.9,724.7 1351.9,727.5 1353.0,730.3 1354.0,733.1 1355.1,735.9 1356.2,738.7 1357.2,741.5 1358.3,744.3 1359.4,747.1 1360.5,749.9 1361.6,752.7 1362.7,755.5 1363.8,758.3 1365.0,761.1 1366.1,763.9 1367.2,766.6 1368.3,769.4 1369.5,772.2 1370.6,775.0 1371.8,777.7 1372.9,780.5 1374.1,783.3 1375.2,786.0 1376.4,788.8 1377.6,791.6 1378.7,794.3 1379.9,797.1 1381.1,799.8 1382.3,802.6 1383.5,805.3 1384.7,808.1 1385.9,810.8 1387.2,813.6 1388.4,816.3 1389.6,819.0 1390.9,821.8 1392.2,824.5 1393.4,827.2 1394.7,829.9 1396.0,832.6 1397.3,835.3 1398.6,838.0 1399.9,840.7 1401.2,843.4 1402.6,846.1 1403.9,848.8 1405.3,851.5 1406.6,854.1 1408.0,856.8 1409.3,859.5 1410.7,862.2 1412.0,864.8 1413.4,867.5 1414.8,870.2 1416.1,872.9 1417.5,875.5 1418.9,878.2 1420.2,880.9 1421.6,883.5 1422.9,886.2 1424.3,888.9 1425.7,891.6 1427.0,894.2 1428.4,896.9 1429.8,899.6 1431.1,902.3 1432.5,904.9 1433.9,907.6 1435.3,910.2 1436.6,912.9 1438.0,915.6 1439.4,918.2 1440.8,920.9 1442.2,923.6 1443.5,926.2 1444.9,928.9 1446.3,931.6 1447.7,934.2 1449.1,936.8 1450.6,939.4 1452.2,942.0 1453.8,944.5 1455.5,947.0 1457.2,949.5 1458.9,951.9 1460.7,954.4 1462.4,956.8 1464.2,959.2 1466.0,961.6 1467.8,964.0 1469.6,966.4 1471.4,968.8 1473.2,971.2 1475.0,973.6 1476.9,976.0 1478.7,978.3 1480.5,980.7 1482.3,983.1 1484.1,985.5 1485.9,987.9 1487.7,990.3 1489.5,992.7 1491.3,995.2 1493.0,997.6 1494.8,1000.0 1496.6,1002.4 1498.3,1004.8 1500.1,1007.3 1501.9,1009.7 1503.7,1012.1 1505.5,1014.5 1507.3,1016.9 1509.1,1019.3 1510.9,1021.6 1512.8,1024.0 1514.7,1026.3 1516.6,1028.6 1518.6,1030.9 1520.6,1033.1 1522.6,1035.3 1524.7,1037.5 1526.7,1039.7 1528.9,1041.8 1531.0,1043.9 1533.2,1046.0 1535.3,1048.1 1537.5,1050.1 1539.7,1052.2 1541.9,1054.2 1544.0,1056.3 1546.1,1058.4 1548.2,1060.6 1550.2,1062.8 1552.1,1065.1 1553.9,1067.4 1555.8,1069.7 1557.7,1071.9 1559.7,1074.1 1561.8,1076.1 1564.0,1078.1 1566.3,1080.1 1568.6,1081.9 1571.0,1083.8 1573.3,1085.7 1575.7,1087.5 1578.1,1089.3 1580.5,1091.1 1582.8,1093.0 1585.2,1094.8 1587.6,1096.6 1590.0,1098.4 1592.5,1100.1 1594.9,1101.9 1597.3,1103.7 1599.7,1105.5 1602.1,1107.2 1604.6,1109.0 1607.0,1110.8 1609.4,1112.5 1611.9,1114.2 1614.3,1116.0 1616.8,1117.7 1619.3,1119.4 1621.7,1121.1 1624.2,1122.8 1626.7,1124.5 1629.2,1126.2 1631.6,1127.9 1634.1,1129.5 1636.6,1131.2 1639.1,1132.8 1641.7,1134.5 1644.2,1136.1 1646.7,1137.7 1649.2,1139.3 1651.8,1140.9 1654.3,1142.5 1656.8,1144.1 1659.4,1145.7 1661.9,1147.3 1664.5,1148.9 1667.1,1150.4 1669.6,1152.0 1672.2,1153.5 1674.8,1155.1 1677.4,1156.6 1680.0,1158.1 1682.6,1159.6 1685.2,1161.1 1687.8,1162.5 1690.4,1164.0 1693.0,1165.4 1695.7,1166.8 1698.3,1168.2 1701.0,1169.6 1703.7,1171.0 1706.4,1172.3 1709.1,1173.6 1711.8,1174.9 1714.5,1176.2 1717.2,1177.5 1719.9,1178.7 1722.6,1180.0 1725.4,1181.2 1728.1,1182.4 1730.9,1183.6 1733.6,1184.8 1736.4,1186.0 1739.2,1187.1 1741.9,1188.2 1744.7,1189.4 1747.5,1190.5 1750.3,1191.5 1753.1,1192.6 1755.9,1193.6 1758.8,1194.6 1761.6,1195.6 1764.4,1196.6 1767.3,1197.6 1770.1,1198.6 1772.9,1199.5 1775.8,1200.5 1778.6,1201.4 1781.5,1202.4 1784.3,1203.3 1787.2,1204.2 1790.0,1205.2 1792.9,1206.1 1795.8,1207.0 1798.6,1207.9 1801.5,1208.9 1804.3,1209.8 1807.2,1210.7 1810.0,1211.6 1812.9,1212.5 1815.7,1213.4 1818.6,1214.3 1821.5,1215.2 1824.4,1216.0 1827.3,1216.8 1830.1,1217.6 1833.0,1218.4 1835.9,1219.1 1838.9,1219.9 1841.8,1220.6 1844.7,1221.2 1847.6,1221.8 1850.6,1222.4 1853.5,1223.0 1856.5,1223.6 1859.4,1224.1 1862.4,1224.6 1865.3,1225.1 1868.3,1225.6 1871.3,1226.1 1874.2,1226.6 1877.2,1227.0 1880.1,1227.5 1883.1,1228.0 1886.1,1228.4 1889.0,1228.9 1892.0,1229.3 1895.0,1229.8 1897.9,1230.2 1900.9,1230.6 1903.9,1231.1 1906.8,1231.5 1909.8,1231.9 1912.8,1232.3 1915.8,1232.7 1918.7,1233.1 1921.7,1233.5 1924.7,1233.9 1927.7,1234.3 1930.6,1234.7 1933.6,1235.1 1936.6,1235.5 1939.6,1235.9 1942.5,1236.3 1945.5,1236.7 1948.5,1237.1 1951.5,1237.4 1954.4,1237.8 1957.4,1238.2 1960.4,1238.5 1963.4,1238.9 1966.3,1239.2 1969.3,1239.5 1972.3,1239.8 1975.3,1240.1 1978.3,1240.4 1981.3,1240.7 1984.3,1240.9 1987.3,1241.2 1990.2,1241.4 1993.2,1241.6 1996.2,1241.9 1999.2,1242.1 2002.2,1242.3 2005.2,1242.5 2008.2,1242.8 2011.2,1243.0 2014.2,1243.3 2017.2,1243.5 2020.2,1243.8 2023.1,1244.1 2026.1,1244.3 2029.1,1244.6 2032.1,1244.9 2035.1,1245.2 2038.1,1245.5 2041.1,1245.7 2044.0,1246.0 2047.0,1246.3 2050.0,1246.6 2053.0,1246.9 2054.0,1247.0" stroke="#ff0000" stroke-width="16"/>
<path d="M321.0,1262.0 321.7,1259.1 322.3,1256.1 322.9,1253.2 323.5,1250.3 324.2,1247.3 324.8,1244.4 325.5,1241.5 326.2,1238.6 326.9,1235.6 327.6,1232.7 328.5,1229.9 329.4,1227.0 330.5,1224.2 331.7,1221.5 333.0,1218.8 334.5,1216.2 336.2,1213.8 338.4,1211.9 341.1,1212.2 342.8,1214.7 343.8,1217.5 344.7,1220.3 345.5,1223.2 346.3,1226.1 347.1,1229.0 347.8,1231.9 348.6,1234.8 349.4,1237.7 350.2,1240.6 351.1,1243.5 352.0,1246.3 352.9,1249.2 353.9,1252.0 354.8,1254.9 355.7,1257.8 356.6,1260.6 357.5,1263.5 358.4,1266.3 359.3,1269.2 360.2,1272.1 361.1,1274.9 362.0,1277.8 363.0,1280.6 363.9,1283.5 364.8,1286.3 365.7,1289.2 366.7,1292.0 367.6,1294.9 368.6,1297.7 369.6,1300.6 370.5,1303.4 371.5,1306.2 372.5,1309.1 373.5,1311.9 374.5,1314.7 375.4,1317.6 376.4,1320.4 377.4,1323.3 378.3,1326.1 379.2,1329.0 380.1,1331.8 381.0,1334.7 382.0,1337.5 383.4,1340.2 385.8,1341.5 388.3,1340.1 390.1,1337.8 391.6,1335.3 392.9,1332.6 394.1,1329.8 395.1,1327.0 396.1,1324.2 397.0,1321.3 397.9,1318.4 398.8,1315.6 399.8,1312.7 400.7,1309.9 401.7,1307.1 402.7,1304.2 403.7,1301.4 404.7,1298.6 405.7,1295.7 406.7,1292.9 407.8,1290.1 409.0,1287.4 410.3,1284.7 411.7,1282.1 413.3,1279.5 414.9,1277.0 416.6,1274.5 418.3,1272.0 419.8,1269.4 421.3,1266.8 422.6,1264.1 423.7,1261.4 424.8,1258.6 425.8,1255.7 426.7,1252.9 427.5,1250.0 428.4,1247.1 429.2,1244.2 430.0,1241.3 430.7,1238.4 431.4,1235.5 432.1,1232.6 432.8,1229.7 433.5,1226.8 434.1,1223.8 434.8,1220.9 435.4,1218.0 436.0,1215.0 436.5,1212.1 437.0,1209.1 437.5,1206.1 438.0,1203.2 438.4,1200.2 438.8,1197.2 439.1,1194.3 439.5,1191.3 439.8,1188.3 440.2,1185.3 440.5,1182.3 440.9,1179.4 441.2,1176.4 441.6,1173.4 442.0,1170.4 442.4,1167.4 442.8,1164.5 443.2,1161.5 443.7,1158.5 444.2,1155.6 444.6,1152.6 445.0,1149.6 445.5,1146.7 445.9,1143.7 446.2,1140.7 446.6,1137.7 446.9,1134.8 447.2,1131.8 447.5,1128.8 447.7,1125.8 447.9,1122.8 448.1,1119.8 448.4,1116.8 448.6,1113.8 448.7,1110.8 448.9,1107.8 449.1,1104.8 449.3,1101.8 449.5,1098.9 449.7,1095.9 449.9,1092.9 450.2,1089.9 450.4,1086.9 450.7,1083.9 450.9,1080.9 451.2,1077.9 451.6,1074.9 451.9,1072.0 452.3,1069.0 452.6,1066.0 453.0,1063.0 453.4,1060.1 453.9,1057.1 454.3,1054.1 454.7,1051.1 455.1,1048.2 455.5,1045.2 455.9,1042.2 456.3,1039.3 456.7,1036.3 457.1,1033.3 457.4,1030.3 457.8,1027.3 458.1,1024.4 458.5,1021.4 458.8,1018.4 459.2,1015.4 459.5,1012.4 459.9,1009.5 460.2,1006.5 460.6,1003.5 460.9,1000.5 461.3,997.5 461.7,994.6 462.1,991.6 462.5,988.6 462.9,985.7 463.5,982.7 464.0,979.8 464.7,976.8 465.5,973.9 466.3,971.0 467.0,968.1 467.6,965.2 468.0,962.2 468.5,959.3 468.8,956.3 469.1,953.3 469.5,950.3 469.8,947.3 470.0,944.4 470.3,941.4 470.6,938.4 470.9,935.4 471.2,932.4 471.4,929.4 471.7,926.4 472.0,923.4 472.3,920.5 472.7,917.5 473.0,914.5 473.4,911.5 473.7,908.5 474.1,905.6 474.5,902.6 474.9,899.6 475.3,896.6 475.7,893.7 476.1,890.7 476.5,887.7 476.9,884.7 477.3,881.8 477.7,878.8 478.1,875.8 478.5,872.9 478.9,869.9 479.3,866.9 479.8,863.9 480.2,861.0 480.6,858.0 481.0,855.0 481.4,852.1 481.8,849.1 482.2,846.1 482.6,843.1 483.1,840.2 483.5,837.2 483.9,834.2 484.3,831.2 484.7,828.3 485.1,825.3 485.5,822.3 485.9,819.4 486.3,816.4 486.7,813.4 487.1,810.4 487.5,807.5 487.8,804.5 488.2,801.5 488.6,798.5 488.9,795.5 489.3,792.6 489.7,789.6 490.1,786.6 490.5,783.6 490.9,780.7 491.3,777.7 491.8,774.7 492.3,771.8 492.8,768.8 493.3,765.9 493.9,762.9 494.5,760.0 495.2,757.1 496.0,754.2 497.0,751.4 498.6,752.2 499.4,755.1 499.9,758.0 500.4,761.0 500.8,763.9 501.3,766.9 501.7,769.9 502.1,772.8 502.5,775.8 502.9,778.8 503.3,781.8 503.6,784.7 504.0,787.7 504.4,790.7 504.7,793.7 505.0,796.7 505.4,799.6 505.7,802.6 506.1,805.6 506.4,808.6 506.7,811.6 507.1,814.6 507.4,817.5 507.7,820.5 508.1,823.5 508.4,826.5 508.7,829.5 509.1,832.4 509.4,835.4 509.7,838.4 510.0,841.4 510.4,844.4 510.7,847.4 511.0,850.3 511.4,853.3 511.7,856.3 512.0,859.3 512.4,862.3 512.7,865.3 513.1,868.2 513.4,871.2 513.7,874.2 514.1,877.2 514.4,880.2 514.7,883.1 515.1,886.1 515.4,889.1 515.7,892.1 516.1,895.1 516.4,898.1 516.7,901.0 517.0,904.0 517.4,907.0 517.7,910.0 518.0,913.0 518.4,915.9 518.7,918.9 519.0,921.9 519.4,924.9 519.7,927.9 520.0,930.9 520.4,933.8 520.7,936.8 521.1,939.8 521.4,942.8 521.7,945.8 522.1,948.7 522.4,951.7 522.8,954.7 523.1,957.7 523.5,960.7 523.9,963.6 524.2,966.6 524.6,969.6 524.9,972.6 525.3,975.6 525.7,978.5 526.1,981.5 526.4,984.5 526.8,987.5 527.2,990.4 527.6,993.4 528.0,996.4 528.4,999.4 528.8,1002.3 529.2,1005.3 529.6,1008.3 530.0,1011.2 530.5,1014.2 530.9,1017.2 531.3,1020.2 531.7,1023.1 532.1,1026.1 532.5,1029.1 532.9,1032.0 533.3,1035.0 533.7,1038.0 534.1,1041.0 534.5,1043.9 534.9,1046.9 535.3,1049.9 535.6,1052.9 536.0,1055.9 536.3,1058.8 536.7,1061.8 537.0,1064.8 537.4,1067.8 537.8,1070.8 538.1,1073.7 538.5,1076.7 538.9,1079.7 539.4,1082.6 539.8,1085.6 540.3,1088.6 540.8,1091.5 541.3,1094.5 541.8,1097.4 542.3,1100.4 542.9,1103.3 543.5,1106.3 544.0,1109.2 544.6,1112.2 545.3,1115.1 545.9,1118.1 546.5,1121.0 547.2,1123.9 547.8,1126.8 548.5,1129.8 549.2,1132.7 549.9,1135.6 550.7,1138.5 551.5,1141.4 552.3,1144.3 553.1,1147.2 554.0,1150.0 554.9,1152.9 555.9,1155.7 556.8,1158.6 557.8,1161.4 558.7,1164.3 559.7,1167.1 560.6,1170.0 561.6,1172.8 562.5,1175.7 563.4,1178.5 564.4,1181.4 565.3,1184.2 566.4,1187.0 567.4,1189.8 568.6,1192.6 569.8,1195.3 571.1,1198.0 572.5,1200.7 574.0,1203.3 575.5,1205.8 577.2,1208.3 578.9,1210.8 580.8,1213.2 582.7,1215.5 584.7,1217.7 586.7,1219.9 588.9,1221.9 591.2,1223.8 593.6,1225.5 596.2,1226.7 599.0,1227.3 601.8,1227.1 604.6,1226.4 607.4,1225.5 610.2,1224.9 613.0,1224.8 615.9,1225.4 618.6,1226.4 621.3,1227.7 624.0,1229.0 626.7,1230.4 629.3,1231.8 632.0,1233.2 634.7,1234.3 637.4,1235.1 640.2,1235.1 643.0,1234.5 645.6,1233.2 648.2,1231.7 650.7,1230.3 653.4,1229.1 656.2,1228.3 659.2,1228.0 662.1,1228.1 665.1,1228.4 668.1,1228.7 671.1,1228.8 674.0,1228.7 677.0,1228.4 680.0,1228.0 683.0,1227.6 685.9,1227.0 688.9,1226.6 691.8,1226.1 694.8,1225.6 697.7,1225.0 700.6,1224.2 703.3,1223.1 705.9,1221.6 708.4,1220.0 710.8,1218.2 713.1,1216.3 715.4,1214.3 717.6,1212.4 719.9,1210.4 722.2,1208.5 724.5,1206.5 726.7,1204.5 729.0,1202.5 731.2,1200.5 733.4,1198.5 735.7,1196.5 737.9,1194.5 740.2,1192.6 742.4,1190.6 744.7,1188.6 746.9,1186.6 749.2,1184.6 751.4,1182.7 753.7,1180.7 755.9,1178.7 758.2,1176.7 760.4,1174.7 762.6,1172.6 764.8,1170.6 767.0,1168.6 769.2,1166.5 771.4,1164.5 773.6,1162.4 775.8,1160.4 778.0,1158.3 780.2,1156.3 782.4,1154.2 784.6,1152.2 786.7,1150.1 788.9,1148.1 791.1,1146.0 793.3,1143.9 795.5,1141.9 797.7,1139.9 799.9,1137.9 802.2,1136.0 804.6,1134.1 807.0,1132.3 809.5,1130.7 812.0,1129.0 814.4,1127.3 816.8,1125.5 819.0,1123.5 821.2,1121.5 823.3,1119.3 825.3,1117.1 827.3,1114.9 829.3,1112.6 831.2,1110.3 833.1,1108.0 835.0,1105.7 836.9,1103.3 838.7,1101.0 840.6,1098.6 842.4,1096.2 844.2,1093.8 845.9,1091.4 847.7,1088.9 849.4,1086.5 851.1,1084.0 852.8,1081.5 854.5,1079.1 856.2,1076.6 857.8,1074.0 859.4,1071.5 861.0,1069.0 862.6,1066.5 864.2,1063.9 865.8,1061.4 867.4,1058.8 868.9,1056.2 870.5,1053.7 872.0,1051.1 873.6,1048.5 875.1,1045.9 876.6,1043.4 878.2,1040.8 879.7,1038.2 881.2,1035.6 882.7,1033.0 884.2,1030.4 885.7,1027.8 887.2,1025.2 888.7,1022.6 890.1,1020.0 891.6,1017.4 893.1,1014.7 894.5,1012.1 896.0,1009.5 897.5,1006.9 898.9,1004.3 900.3,1001.6 901.8,999.0 903.2,996.3 904.6,993.7 906.0,991.0 907.4,988.4 908.7,985.7 910.1,983.0 911.5,980.3 912.8,977.7 914.2,975.0 915.5,972.3 916.8,969.6 918.2,966.9 919.5,964.3 920.9,961.6 922.2,958.9 923.6,956.2 924.9,953.5 926.3,950.8 927.6,948.2 929.0,945.5 930.4,942.8 931.8,940.2 933.2,937.5 934.6,934.9 936.0,932.2 937.4,929.6 938.8,926.9 940.3,924.3 941.7,921.7 943.1,919.0 944.6,916.4 946.0,913.8 947.4,911.1 948.8,908.5 950.2,905.8 951.6,903.2 953.0,900.5 954.4,897.8 955.7,895.1 957.0,892.4 958.3,889.7 959.6,887.0 960.8,884.3 962.1,881.6 963.3,878.8 964.5,876.1 965.7,873.3 966.9,870.6 968.0,867.8 969.1,865.0 970.2,862.2 971.3,859.4 972.4,856.6 973.5,853.8 974.5,851.0 975.6,848.2 976.6,845.4 977.6,842.5 978.6,839.7 979.6,836.9 980.6,834.1 981.6,831.2 982.6,828.4 983.6,825.6 984.5,822.7 985.5,819.9 986.4,817.0 987.4,814.2 988.3,811.3 989.3,808.5 990.2,805.6 991.2,802.8 992.1,799.9 993.0,797.1 993.9,794.2 994.9,791.4 995.8,788.5 996.7,785.7 997.6,782.8 998.5,779.9 999.4,777.1 1000.3,774.2 1001.2,771.4 1002.1,768.5 1003.0,765.6 1003.9,762.8 1004.8,759.9 1005.6,757.0 1006.5,754.2 1007.4,751.3 1008.2,748.4 1009.1,745.5 1009.9,742.6 1010.7,739.8 1011.6,736.9 1012.4,734.0 1013.2,731.1 1014.0,728.2 1014.8,725.3 1015.7,722.4 1016.5,719.6 1017.3,716.7 1018.1,713.8 1018.9,710.9 1019.7,708.0 1020.5,705.1 1021.4,702.2 1022.2,699.3 1023.0,696.5 1023.9,693.6 1024.7,690.7 1025.6,687.8 1026.4,684.9 1027.3,682.1 1028.2,679.2 1029.2,676.4 1030.1,673.5 1031.2,670.7 1032.3,667.9 1033.4,665.2 1034.7,662.5 1036.0,659.8 1037.3,657.1 1038.5,654.4 1039.7,651.6 1040.9,648.9 1042.0,646.1 1043.0,643.4 1044.2,640.8 1045.4,638.6 1046.8,636.8 1048.5,635.8 1050.3,635.7 1052.2,636.3 1054.1,637.7 1056.0,639.5 1057.8,641.7 1059.7,644.0 1061.5,646.3 1063.3,648.7 1065.1,651.1 1067.0,653.5 1068.8,655.8 1070.7,658.1 1072.8,660.3 1074.9,662.3 1077.2,664.2 1079.6,665.9 1082.1,667.4 1084.8,668.7 1087.5,669.9 1090.3,670.8 1093.2,671.6 1096.1,672.2 1099.1,672.6 1102.0,672.9 1105.0,673.0 1108.0,673.0 1110.9,672.7 1113.8,672.3 1116.7,671.6 1119.4,670.6 1122.1,669.4 1124.6,667.9 1127.0,666.2 1129.2,664.3 1131.5,662.3 1133.7,660.4 1136.0,658.4 1138.3,656.5 1140.6,654.7 1143.0,653.0 1145.6,651.5 1148.2,650.3 1150.9,649.5 1153.6,649.1 1156.4,649.1 1159.2,649.6 1162.0,650.4 1164.7,651.5 1167.3,652.9 1169.9,654.4 1172.3,656.1 1174.7,657.9 1177.1,659.7 1179.4,661.7 1181.6,663.6 1183.9,665.6 1186.1,667.6 1188.3,669.7 1190.5,671.7 1192.7,673.7 1195.0,675.6 1197.3,677.5 1199.8,679.2 1202.3,680.7 1204.9,682.0 1207.6,683.0 1210.5,683.7 1213.3,684.2 1216.3,684.4 1219.2,684.2 1222.1,683.9 1224.9,683.2 1227.7,682.3 1230.5,681.2 1233.1,679.8 1235.7,678.4 1238.3,676.8 1240.8,675.2 1243.3,673.5 1245.7,671.8 1248.1,670.0 1250.4,668.2 1252.7,666.3 1254.8,664.2 1256.7,662.0 1258.5,659.6 1260.1,657.2 1261.6,654.6 1263.1,652.0 1264.6,649.4 1266.0,646.8 1267.6,644.2 1269.2,641.7 1270.9,639.2 1272.6,636.8 1274.4,634.3 1276.1,631.9 1277.9,629.5 1279.6,627.0 1281.2,624.5 1282.7,621.9 1284.2,619.3 1285.6,616.7 1287.0,614.0 1288.3,611.3 1289.6,608.6 1290.8,605.9 1292.1,603.1 1293.3,600.4 1294.5,597.7 1295.7,594.9 1296.9,592.2 1298.1,589.4 1299.3,586.7 1300.5,583.9 1301.7,581.1 1302.8,578.4 1304.0,575.6 1305.1,572.8 1306.3,570.1 1307.4,567.3 1308.6,564.5 1309.7,561.7 1310.8,559.0 1311.9,556.2 1313.0,553.4 1314.2,550.6 1315.3,547.8 1316.3,545.0 1317.4,542.2 1318.5,539.4 1319.5,536.6 1320.6,533.8 1321.6,531.0 1322.6,528.1 1323.6,525.3 1324.6,522.5 1325.6,519.7 1326.6,516.8 1327.6,514.0 1328.5,511.1 1329.5,508.3 1330.4,505.4 1331.3,502.6 1332.2,499.7 1333.1,496.8 1334.0,494.0 1334.8,491.1 1335.6,488.2 1336.5,485.3 1337.3,482.4 1338.1,479.5 1338.9,476.7 1339.7,473.8 1340.4,470.9 1341.2,468.0 1342.0,465.1 1342.8,462.2 1343.5,459.3 1344.3,456.4 1345.0,453.5 1345.8,450.6 1346.6,447.6 1347.3,444.7 1348.1,441.8 1348.9,438.9 1349.7,436.1 1350.4,433.2 1351.2,430.3 1352.0,427.4 1352.8,424.5 1353.5,421.6 1354.3,418.7 1355.1,415.8 1355.8,412.8 1356.6,409.9 1357.3,407.0 1358.0,404.1 1358.7,401.2 1359.4,398.3 1360.1,395.4 1360.8,392.4 1361.5,389.5 1362.1,386.6 1362.8,383.7 1363.4,380.7 1364.0,377.8 1364.6,374.9 1365.3,371.9 1365.9,369.0 1366.4,366.0 1367.0,363.1 1367.6,360.2 1368.2,357.2 1368.8,354.3 1369.3,351.3 1369.9,348.4 1370.5,345.4 1371.1,342.5 1371.6,339.5 1372.2,336.6 1372.7,333.6 1373.3,330.7 1373.9,327.8 1374.4,324.8 1375.0,321.9 1375.6,318.9 1376.1,316.0 1376.7,313.0 1377.2,310.1 1377.7,307.1 1378.3,304.2 1378.8,301.2 1379.4,298.3 1379.9,295.3 1380.4,292.3 1381.0,289.4 1381.5,286.4 1382.0,283.5 1382.6,280.5 1383.1,277.6 1383.7,274.6 1384.3,271.7 1384.9,268.8 1385.5,265.8 1386.1,262.9 1386.8,260.0 1387.5,257.0 1388.1,254.1 1388.9,251.2 1389.6,248.3 1390.4,245.4 1391.2,242.5 1392.1,239.7 1393.0,236.8 1393.9,233.9 1395.3,231.3 1397.6,231.6 1399.4,234.0 1400.7,236.7 1401.8,239.5 1402.8,242.4 1403.6,245.2 1404.4,248.1 1405.2,251.0 1405.9,253.9 1406.6,256.9 1407.2,259.8 1407.8,262.7 1408.5,265.7 1409.1,268.6 1409.6,271.5 1410.2,274.5 1410.8,277.4 1411.4,280.4 1412.0,283.3 1412.5,286.3 1413.1,289.2 1413.7,292.2 1414.2,295.1 1414.8,298.0 1415.4,301.0 1416.0,303.9 1416.6,306.9 1417.2,309.8 1417.8,312.8 1418.4,315.7 1419.0,318.6 1419.6,321.6 1420.2,324.5 1420.8,327.4 1421.4,330.4 1422.0,333.3 1422.7,336.3 1423.3,339.2 1423.9,342.1 1424.5,345.1 1425.1,348.0 1425.7,350.9 1426.3,353.9 1426.9,356.8 1427.5,359.8 1428.1,362.7 1428.7,365.6 1429.3,368.6 1429.9,371.5 1430.5,374.5 1431.1,377.4 1431.7,380.3 1432.3,383.3 1432.8,386.2 1433.4,389.2 1434.0,392.1 1434.5,395.1 1435.1,398.0 1435.6,401.0 1436.2,403.9 1436.7,406.9 1437.3,409.8 1437.8,412.8 1438.4,415.7 1438.9,418.7 1439.4,421.6 1440.0,424.6 1440.5,427.5 1441.0,430.5 1441.6,433.4 1442.1,436.4 1442.6,439.3 1443.2,442.3 1443.7,445.3 1444.3,448.2 1444.8,451.2 1445.4,454.1 1445.9,457.1 1446.5,460.0 1447.0,462.9 1447.6,465.9 1448.2,468.8 1448.7,471.8 1449.3,474.7 1449.9,477.7 1450.5,480.6 1451.1,483.6 1451.6,486.5 1452.2,489.4 1452.8,492.4 1453.4,495.3 1454.0,498.3 1454.6,501.2 1455.2,504.1 1455.8,507.1 1456.4,510.0 1457.0,513.0 1457.6,515.9 1458.2,518.9 1458.8,521.8 1459.4,524.7 1460.0,527.7 1460.6,530.6 1461.1,533.6 1461.7,536.5 1462.3,539.4 1462.9,542.4 1463.4,545.3 1464.0,548.3 1464.5,551.2 1465.0,554.2 1465.5,557.2 1466.0,560.1 1466.5,563.1 1467.0,566.0 1467.5,569.0 1468.0,571.9 1468.6,574.9 1469.1,577.8 1469.7,580.8 1470.3,583.7 1470.9,586.7 1471.5,589.6 1472.2,592.5 1472.8,595.5 1473.5,598.4 1474.2,601.3 1474.9,604.2 1475.6,607.1 1476.3,610.1 1477.0,613.0 1477.7,615.9 1478.4,618.8 1479.1,621.7 1479.9,624.6 1480.6,627.5 1481.3,630.4 1482.1,633.4 1482.8,636.3 1483.6,639.2 1484.4,642.1 1485.1,645.0 1485.9,647.9 1486.7,650.8 1487.5,653.7 1488.2,656.6 1489.0,659.4 1489.8,662.3 1490.6,665.2 1491.5,668.1 1492.3,671.0 1493.1,673.9 1493.9,676.8 1494.8,679.6 1495.6,682.5 1496.5,685.4 1497.4,688.3 1498.3,691.1 1499.2,694.0 1500.1,696.9 1501.0,699.7 1501.9,702.6 1502.9,705.4 1503.8,708.3 1504.8,711.1 1505.8,713.9 1506.8,716.8 1507.8,719.6 1508.8,722.4 1509.8,725.2 1510.9,728.0 1511.9,730.9 1512.9,733.7 1514.0,736.5 1515.1,739.3 1516.1,742.1 1517.2,744.9 1518.3,747.7 1519.4,750.5 1520.5,753.2 1521.7,756.0 1522.8,758.8 1523.9,761.6 1525.0,764.4 1526.2,767.2 1527.3,769.9 1528.4,772.7 1529.5,775.5 1530.7,778.3 1531.8,781.1 1532.9,783.9 1534.0,786.6 1535.1,789.4 1536.2,792.2 1537.3,795.0 1538.4,797.8 1539.5,800.6 1540.6,803.4 1541.7,806.2 1542.8,809.0 1543.9,811.8 1545.0,814.5 1546.1,817.3 1547.2,820.1 1548.3,822.9 1549.4,825.7 1550.5,828.5 1551.5,831.3 1552.6,834.1 1553.7,836.9 1554.7,839.8 1555.8,842.6 1556.9,845.4 1558.0,848.2 1559.1,850.9 1560.2,853.7 1561.4,856.5 1562.5,859.2 1563.7,862.0 1565.0,864.7 1566.2,867.5 1567.5,870.2 1568.7,872.9 1570.0,875.6 1571.3,878.3 1572.6,881.0 1574.0,883.7 1575.3,886.4 1576.6,889.1 1578.0,891.8 1579.3,894.4 1580.7,897.1 1582.0,899.8 1583.4,902.5 1584.8,905.1 1586.1,907.8 1587.5,910.5 1588.9,913.1 1590.3,915.8 1591.7,918.5 1593.0,921.1 1594.4,923.8 1595.8,926.5 1597.2,929.1 1598.5,931.8 1599.9,934.5 1601.3,937.1 1602.7,939.8 1604.1,942.4 1605.6,945.0 1607.0,947.7 1608.5,950.3 1610.0,952.9 1611.5,955.5 1613.0,958.0 1614.6,960.6 1616.2,963.2 1617.8,965.7 1619.4,968.2 1621.0,970.7 1622.7,973.3 1624.3,975.8 1626.0,978.3 1627.7,980.7 1629.4,983.2 1631.0,985.7 1632.8,988.2 1634.5,990.6 1636.2,993.1 1637.9,995.5 1639.7,998.0 1641.4,1000.4 1643.2,1002.8 1645.0,1005.3 1646.7,1007.7 1648.5,1010.1 1650.3,1012.5 1652.2,1014.9 1654.0,1017.2 1655.8,1019.6 1657.7,1022.0 1659.5,1024.3 1661.4,1026.7 1663.3,1029.0 1665.2,1031.3 1667.1,1033.6 1669.1,1035.9 1671.0,1038.2 1673.0,1040.4 1675.1,1042.6 1677.1,1044.8 1679.2,1047.0 1681.2,1049.2 1683.3,1051.3 1685.5,1053.4 1687.6,1055.5 1689.8,1057.6 1691.9,1059.7 1694.1,1061.7 1696.3,1063.8 1698.5,1065.8 1700.7,1067.8 1703.0,1069.9 1705.2,1071.8 1707.5,1073.8 1709.7,1075.8 1712.0,1077.8 1714.3,1079.7 1716.6,1081.6 1718.9,1083.6 1721.2,1085.4 1723.5,1087.3 1725.9,1089.2 1728.3,1091.0 1730.7,1092.8 1733.1,1094.6 1735.5,1096.3 1738.0,1098.0 1740.5,1099.7 1743.0,1101.4 1745.5,1103.1 1748.0,1104.7 1750.5,1106.4 1753.0,1108.0 1755.5,1109.7 1758.0,1111.4 1760.5,1113.0 1762.9,1114.7 1765.4,1116.4 1767.9,1118.1 1770.4,1119.8 1772.9,1121.4 1775.4,1123.1 1777.8,1124.8 1780.3,1126.5 1782.8,1128.2 1785.3,1129.8 1787.8,1131.5 1790.3,1133.2 1792.8,1134.8 1795.3,1136.5 1797.8,1138.1 1800.3,1139.8 1802.8,1141.4 1805.4,1143.0 1807.9,1144.6 1810.4,1146.2 1813.0,1147.8 1815.6,1149.4 1818.1,1150.9 1820.7,1152.4 1823.3,1153.9 1825.9,1155.4 1828.5,1156.9 1831.2,1158.3 1833.8,1159.8 1836.4,1161.2 1839.1,1162.6 1841.8,1163.9 1844.4,1165.3 1847.1,1166.6 1849.8,1168.0 1852.5,1169.3 1855.2,1170.6 1857.9,1171.9 1860.7,1173.1 1863.4,1174.3 1866.1,1175.5 1868.9,1176.7 1871.7,1177.7 1874.5,1178.8 1877.4,1179.8 1880.2,1180.7 1883.1,1181.6 1886.0,1182.4 1888.9,1183.2 1891.8,1183.9 1894.7,1184.6 1897.6,1185.3 1900.5,1186.0 1903.5,1186.6 1906.4,1187.2 1909.3,1187.8 1912.3,1188.4 1915.2,1189.0 1918.1,1189.7 1921.1,1190.3 1924.0,1190.9 1926.9,1191.6 1929.9,1192.2 1932.8,1192.9 1935.7,1193.5 1938.6,1194.2 1941.6,1194.9 1944.5,1195.5 1947.4,1196.2 1950.4,1196.8 1953.3,1197.5 1956.2,1198.1 1959.2,1198.7 1962.1,1199.4 1965.0,1200.0 1968.0,1200.6 1970.9,1201.2 1973.8,1201.8 1976.8,1202.4 1979.7,1202.9 1982.7,1203.5 1985.6,1204.1 1988.6,1204.6 1991.5,1205.1 1994.5,1205.7 1997.4,1206.2 2000.4,1206.8 2003.3,1207.3 2006.3,1207.9 2009.2,1208.5 2012.2,1209.1 2015.1,1209.7 2018.0,1210.3 2021.0,1210.9 2023.9,1211.6 2026.8,1212.3 2029.7,1213.0 2032.6,1213.7 2035.6,1214.4 2038.5,1215.1 2041.4,1215.8 2044.3,1216.6 2047.2,1217.3 2050.1,1218.0 2053.0,1218.8 2054.0,1219.0" stroke="#0000ff" stroke-width="16"/>
<path d="M321.0,1300.0 321.5,1297.0 322.0,1294.1 322.5,1291.1 323.1,1288.2 323.6,1285.2 324.2,1282.3 324.9,1279.4 325.7,1276.5 326.6,1273.6 327.7,1270.8 328.9,1268.1 330.3,1265.5 332.3,1263.3 334.7,1264.1 336.1,1266.7 337.1,1269.6 337.9,1272.5 338.7,1275.3 339.5,1278.2 340.2,1281.2 340.9,1284.1 341.5,1287.0 342.1,1290.0 342.6,1292.9 343.1,1295.9 343.7,1298.8 344.3,1301.8 344.9,1304.7 345.5,1307.6 346.3,1310.5 347.1,1313.4 348.0,1316.3 349.0,1319.1 350.0,1321.9 351.1,1324.7 352.2,1327.5 353.3,1330.3 354.5,1333.1 355.7,1335.8 356.8,1338.6 358.0,1341.4 359.1,1344.1 360.3,1346.9 361.5,1349.6 362.8,1352.4 364.0,1355.1 365.2,1357.9 366.4,1360.6 367.5,1363.4 368.6,1366.2 369.5,1369.0 370.4,1371.9 371.3,1374.7 372.3,1377.6 373.3,1380.4 374.6,1383.1 376.4,1385.4 378.9,1385.2 380.6,1382.7 381.9,1380.0 383.1,1377.3 384.3,1374.5 385.4,1371.7 386.4,1368.9 387.5,1366.1 388.5,1363.3 389.6,1360.5 390.6,1357.7 391.6,1354.9 392.7,1352.0 393.7,1349.2 394.7,1346.4 395.7,1343.6 396.7,1340.7 397.8,1337.9 398.8,1335.1 399.8,1332.3 400.8,1329.5 401.9,1326.6 402.9,1323.8 403.9,1321.0 405.0,1318.2 406.1,1315.4 407.3,1312.7 408.5,1309.9 409.7,1307.2 410.6,1304.3 411.5,1301.5 412.2,1298.6 412.8,1295.6 413.4,1292.7 413.9,1289.7 414.3,1286.7 414.8,1283.8 415.2,1280.8 415.6,1277.8 416.0,1274.9 416.4,1271.9 416.8,1268.9 417.2,1265.9 417.5,1263.0 417.9,1260.0 418.2,1257.0 418.6,1254.0 419.0,1251.0 419.3,1248.1 419.7,1245.1 420.0,1242.1 420.3,1239.1 420.6,1236.1 421.0,1233.1 421.2,1230.2 421.5,1227.2 421.8,1224.2 422.1,1221.2 422.3,1218.2 422.6,1215.2 422.9,1212.2 423.1,1209.2 423.4,1206.3 423.7,1203.3 424.0,1200.3 424.3,1197.3 424.6,1194.3 425.0,1191.3 425.4,1188.4 425.7,1185.4 426.1,1182.4 426.5,1179.4 426.9,1176.4 427.2,1173.5 427.5,1170.5 427.9,1167.5 428.2,1164.5 428.5,1161.5 428.8,1158.6 429.1,1155.6 429.4,1152.6 429.7,1149.6 429.9,1146.6 430.2,1143.6 430.5,1140.6 430.7,1137.6 430.9,1134.6 431.2,1131.6 431.4,1128.7 431.6,1125.7 431.8,1122.7 432.0,1119.7 432.2,1116.7 432.4,1113.7 432.6,1110.7 432.8,1107.7 432.9,1104.7 433.1,1101.7 433.3,1098.7 433.5,1095.7 433.7,1092.7 433.9,1089.7 434.1,1086.7 434.3,1083.7 434.5,1080.7 434.6,1077.7 434.8,1074.8 435.0,1071.8 435.2,1068.8 435.4,1065.8 435.6,1062.8 435.8,1059.8 436.0,1056.8 436.2,1053.8 436.3,1050.8 436.5,1047.8 436.7,1044.8 437.0,1041.8 437.2,1038.8 437.4,1035.8 437.6,1032.8 437.9,1029.8 438.1,1026.9 438.3,1023.9 438.6,1020.9 438.9,1017.9 439.1,1014.9 439.4,1011.9 439.7,1008.9 439.9,1005.9 440.2,1002.9 440.5,1000.0 440.7,997.0 441.0,994.0 441.3,991.0 441.6,988.0 441.9,985.0 442.2,982.0 442.4,979.0 442.7,976.1 443.0,973.1 443.3,970.1 443.6,967.1 443.9,964.1 444.2,961.1 444.5,958.1 444.8,955.2 445.2,952.2 445.5,949.2 445.9,946.2 446.3,943.2 446.6,940.3 446.9,937.3 447.2,934.3 447.5,931.3 447.7,928.3 447.9,925.3 448.0,922.3 448.2,919.3 448.3,916.3 448.4,913.3 448.5,910.3 448.7,907.3 448.8,904.3 448.9,901.3 449.0,898.3 449.2,895.3 449.3,892.3 449.5,889.3 449.6,886.3 449.8,883.3 450.0,880.4 450.1,877.4 450.3,874.4 450.5,871.4 450.6,868.4 450.8,865.4 451.0,862.4 451.1,859.4 451.3,856.4 451.5,853.4 451.6,850.4 451.8,847.4 452.0,844.4 452.1,841.4 452.3,838.4 452.5,835.4 452.7,832.4 452.8,829.4 453.0,826.4 453.2,823.4 453.3,820.4 453.5,817.4 453.7,814.4 453.9,811.4 454.0,808.4 454.2,805.5 454.4,802.5 454.5,799.5 454.7,796.5 454.9,793.5 455.0,790.5 455.2,787.5 455.4,784.5 455.6,781.5 455.7,778.5 455.9,775.5 456.1,772.5 456.3,769.5 456.4,766.5 456.6,763.5 456.8,760.5 457.1,757.5 457.3,754.5 457.5,751.5 457.8,748.6 458.0,745.6 458.3,742.6 458.6,739.6 459.0,736.6 459.4,733.6 459.9,730.7 460.6,727.8 461.5,725.0 462.7,722.4 464.4,720.0 467.2,719.0 469.9,720.0 472.3,721.8 474.6,723.5 476.6,725.7 479.0,726.8 481.2,724.9 482.8,722.3 484.2,719.8 485.5,717.1 486.6,714.3 487.5,711.5 488.4,708.6 489.1,705.7 489.8,702.8 490.5,699.9 491.2,696.9 491.8,694.0 492.3,691.0 492.8,688.1 493.3,685.1 493.8,682.2 494.2,679.2 494.7,676.2 495.2,673.3 495.7,670.3 496.2,667.3 496.7,664.4 497.2,661.4 497.7,658.5 498.2,655.5 498.8,652.6 499.4,649.6 500.2,646.8 502.0,644.8 503.8,646.7 504.7,649.6 505.2,652.5 505.7,655.5 506.1,658.5 506.4,661.5 506.7,664.4 507.0,667.4 507.3,670.4 507.5,673.4 507.7,676.4 508.0,679.4 508.2,682.4 508.4,685.4 508.6,688.4 508.8,691.4 509.0,694.4 509.2,697.4 509.4,700.3 509.6,703.3 509.8,706.3 509.9,709.3 510.1,712.3 510.3,715.3 510.5,718.3 510.6,721.3 510.8,724.3 511.0,727.3 511.1,730.3 511.3,733.3 511.5,736.3 511.7,739.3 511.9,742.3 512.1,745.3 512.3,748.3 512.5,751.3 512.7,754.3 512.9,757.3 513.1,760.3 513.2,763.2 513.4,766.2 513.6,769.2 513.8,772.2 514.0,775.2 514.2,778.2 514.4,781.2 514.6,784.2 514.8,787.2 515.0,790.2 515.2,793.2 515.4,796.2 515.6,799.2 515.8,802.2 516.0,805.2 516.2,808.2 516.4,811.2 516.6,814.1 516.8,817.1 517.0,820.1 517.2,823.1 517.4,826.1 517.6,829.1 517.8,832.1 518.0,835.1 518.2,838.1 518.4,841.1 518.6,844.1 518.8,847.1 518.9,850.1 519.1,853.1 519.3,856.1 519.5,859.1 519.7,862.1 520.0,865.0 520.2,868.0 520.4,871.0 520.6,874.0 520.8,877.0 521.1,880.0 521.3,883.0 521.5,886.0 521.8,889.0 522.0,892.0 522.3,895.0 522.5,898.0 522.8,900.9 523.0,903.9 523.3,906.9 523.6,909.9 523.8,912.9 524.1,915.9 524.4,918.9 524.7,921.9 525.0,924.9 525.3,927.8 525.6,930.8 525.9,933.8 526.2,936.8 526.5,939.8 526.8,942.8 527.1,945.7 527.5,948.7 527.8,951.7 528.2,954.7 528.5,957.7 528.9,960.6 529.2,963.6 529.6,966.6 530.0,969.6 530.3,972.6 530.7,975.5 531.1,978.5 531.5,981.5 531.8,984.5 532.2,987.4 532.6,990.4 533.0,993.4 533.4,996.4 533.8,999.3 534.2,1002.3 534.6,1005.3 535.0,1008.3 535.4,1011.2 535.8,1014.2 536.3,1017.2 536.7,1020.2 537.1,1023.1 537.5,1026.1 537.9,1029.1 538.3,1032.0 538.7,1035.0 539.1,1038.0 539.5,1041.0 539.9,1043.9 540.2,1046.9 540.6,1049.9 540.9,1052.9 541.2,1055.9 541.5,1058.9 541.8,1061.8 542.1,1064.8 542.3,1067.8 542.5,1070.8 542.8,1073.8 543.1,1076.8 543.4,1079.8 543.7,1082.8 544.1,1085.7 544.5,1088.7 545.0,1091.7 545.5,1094.6 546.0,1097.6 546.5,1100.5 547.0,1103.5 547.6,1106.4 548.1,1109.4 548.7,1112.3 549.3,1115.3 549.8,1118.2 550.4,1121.2 551.1,1124.1 551.7,1127.0 552.3,1130.0 553.0,1132.9 553.7,1135.8 554.4,1138.7 555.1,1141.6 555.9,1144.5 556.7,1147.4 557.6,1150.3 558.5,1153.2 559.5,1156.0 560.5,1158.8 561.5,1161.6 562.6,1164.4 563.7,1167.2 564.7,1170.0 565.8,1172.9 566.8,1175.7 567.9,1178.5 569.0,1181.3 570.1,1184.1 571.2,1186.8 572.4,1189.6 573.6,1192.3 574.9,1195.0 576.3,1197.7 577.9,1200.2 579.5,1202.7 581.3,1205.1 583.2,1207.4 585.4,1209.5 587.7,1211.3 590.2,1212.6 592.9,1213.1 595.6,1212.9 598.2,1211.8 600.7,1210.2 603.1,1208.5 605.6,1206.9 608.2,1205.4 610.9,1204.1 613.6,1202.8 616.3,1201.6 619.1,1200.4 621.8,1199.2 624.6,1198.1 627.4,1197.2 630.3,1196.6 633.2,1196.6 636.1,1197.1 638.9,1198.0 641.5,1199.3 644.1,1200.8 646.7,1202.4 649.1,1204.1 651.5,1206.0 653.8,1207.9 656.1,1209.8 658.3,1211.8 660.6,1213.7 663.0,1215.6 665.3,1217.5 667.7,1219.3 670.1,1221.0 672.6,1222.7 675.2,1224.2 677.9,1225.5 680.7,1226.6 683.5,1227.6 686.4,1228.2 689.4,1228.6 692.3,1228.8 695.3,1228.6 698.2,1228.1 701.1,1227.4 703.9,1226.3 706.5,1225.0 709.1,1223.4 711.5,1221.7 713.8,1219.8 716.1,1217.9 718.4,1215.9 720.7,1214.0 723.0,1212.0 725.2,1210.0 727.5,1208.1 729.7,1206.1 732.0,1204.1 734.2,1202.1 736.5,1200.1 738.7,1198.1 741.0,1196.1 743.2,1194.1 745.5,1192.2 747.7,1190.2 750.0,1188.2 752.2,1186.2 754.5,1184.2 756.7,1182.2 759.0,1180.2 761.2,1178.2 763.4,1176.2 765.6,1174.2 767.8,1172.2 770.0,1170.1 772.2,1168.1 774.4,1166.0 776.6,1164.0 778.8,1161.9 781.0,1159.9 783.2,1157.8 785.4,1155.8 787.6,1153.7 789.8,1151.7 791.9,1149.6 794.1,1147.5 796.3,1145.5 798.5,1143.5 800.7,1141.4 803.0,1139.5 805.3,1137.6 807.7,1135.8 810.1,1134.0 812.6,1132.4 815.1,1130.7 817.5,1129.0 819.8,1127.1 822.1,1125.1 824.2,1123.0 826.3,1120.8 828.3,1118.6 830.2,1116.3 832.2,1114.0 834.1,1111.7 836.0,1109.4 837.9,1107.1 839.7,1104.7 841.6,1102.4 843.4,1100.0 845.2,1097.6 847.0,1095.2 848.8,1092.7 850.5,1090.3 852.2,1087.8 853.9,1085.4 855.6,1082.9 857.3,1080.4 858.9,1077.9 860.6,1075.4 862.2,1072.8 863.8,1070.3 865.4,1067.8 867.0,1065.2 868.5,1062.7 870.1,1060.1 871.7,1057.5 873.2,1055.0 874.8,1052.4 876.3,1049.8 877.8,1047.2 879.3,1044.6 880.9,1042.1 882.4,1039.5 883.9,1036.9 885.4,1034.3 886.9,1031.7 888.4,1029.1 889.9,1026.5 891.3,1023.9 892.8,1021.2 894.3,1018.6 895.8,1016.0 897.2,1013.4 898.7,1010.8 900.1,1008.1 901.6,1005.5 903.0,1002.9 904.4,1000.2 905.8,997.6 907.2,994.9 908.6,992.3 910.0,989.6 911.4,986.9 912.7,984.3 914.1,981.6 915.4,978.9 916.8,976.2 918.1,973.5 919.5,970.9 920.8,968.2 922.2,965.5 923.5,962.8 924.8,960.1 926.2,957.4 927.5,954.8 928.9,952.1 930.3,949.4 931.6,946.7 933.0,944.1 934.4,941.4 935.8,938.8 937.2,936.1 938.6,933.5 940.1,930.8 941.5,928.2 942.9,925.6 944.4,922.9 945.8,920.3 947.2,917.7 948.7,915.0 950.1,912.4 951.5,909.7 952.9,907.1 954.3,904.4 955.6,901.7 957.0,899.1 958.3,896.4 959.6,893.7 960.9,891.0 962.2,888.2 963.4,885.5 964.7,882.8 965.9,880.0 967.1,877.3 968.2,874.5 969.4,871.7 970.5,869.0 971.7,866.2 972.8,863.4 973.8,860.6 974.9,857.8 976.0,855.0 977.0,852.2 978.0,849.4 979.1,846.5 980.1,843.7 981.1,840.9 982.1,838.1 983.1,835.2 984.1,832.4 985.0,829.6 986.0,826.7 987.0,823.9 987.9,821.0 988.9,818.2 989.8,815.3 990.8,812.5 991.7,809.6 992.7,806.8 993.6,803.9 994.5,801.1 995.5,798.2 996.4,795.4 997.3,792.5 998.2,789.7 999.1,786.8 1000.0,783.9 1000.9,781.1 1001.9,778.2 1002.8,775.4 1003.6,772.5 1004.5,769.6 1005.4,766.8 1006.3,763.9 1007.2,761.0 1008.1,758.2 1008.9,755.3 1009.8,752.4 1010.6,749.5 1011.5,746.7 1012.3,743.8 1013.2,740.9 1014.0,738.0 1014.8,735.1 1015.7,732.2 1016.5,729.4 1017.3,726.5 1018.1,723.6 1019.0,720.7 1019.8,717.8 1020.6,714.9 1021.4,712.0 1022.2,709.2 1023.1,706.3 1023.9,703.4 1024.7,700.5 1025.5,697.6 1026.4,694.7 1027.2,691.9 1028.0,689.0 1028.9,686.1 1029.8,683.2 1030.6,680.3 1031.5,677.5 1032.4,674.6 1033.3,671.8 1034.3,668.9 1035.2,666.1 1036.2,663.2 1037.2,660.4 1038.2,657.6 1039.3,654.8 1040.4,652.0 1041.6,649.2 1042.7,646.5 1043.9,643.7 1045.2,641.0 1046.6,638.4 1048.1,635.9 1049.9,633.6 1051.8,631.6 1054.0,630.0 1056.4,628.8 1059.0,628.1 1061.7,628.0 1064.4,628.4 1067.0,629.2 1069.5,630.5 1071.9,632.1 1074.2,634.0 1076.4,635.9 1078.7,637.9 1080.9,639.9 1083.1,641.9 1085.4,643.9 1087.7,645.8 1090.1,647.6 1092.5,649.3 1095.1,650.8 1097.7,652.1 1100.4,653.1 1103.2,654.0 1106.1,654.6 1109.1,655.1 1112.0,655.5 1115.0,655.9 1118.0,656.2 1121.0,656.6 1123.9,657.0 1126.9,657.4 1129.8,657.9 1132.8,658.5 1135.7,659.2 1138.5,660.0 1141.3,661.0 1144.0,662.2 1146.6,663.6 1149.1,665.2 1151.4,667.0 1153.6,669.0 1155.7,671.1 1157.7,673.3 1159.6,675.6 1161.4,678.0 1163.2,680.4 1164.9,682.9 1166.5,685.4 1168.2,687.9 1169.8,690.4 1171.4,692.9 1173.1,695.5 1174.7,698.0 1176.4,700.5 1178.0,703.0 1179.7,705.5 1181.4,708.0 1183.0,710.4 1184.7,712.9 1186.3,715.4 1188.0,718.0 1189.6,720.5 1191.3,723.0 1192.9,725.5 1194.6,728.0 1196.3,730.5 1198.0,732.9 1199.7,735.4 1201.5,737.8 1203.3,740.1 1205.2,742.4 1207.2,744.7 1209.3,746.9 1211.4,748.9 1213.7,750.8 1216.1,752.5 1218.6,753.9 1221.3,755.0 1224.0,755.8 1226.9,756.3 1229.7,756.3 1232.7,756.1 1235.6,755.6 1238.4,754.9 1241.3,754.0 1244.1,753.0 1246.9,751.9 1249.6,750.8 1252.3,749.5 1255.0,748.2 1257.7,746.8 1260.3,745.4 1262.9,743.9 1265.5,742.4 1268.1,740.9 1270.6,739.3 1273.2,737.7 1275.7,736.1 1278.2,734.4 1280.7,732.8 1283.2,731.1 1285.7,729.5 1288.2,727.8 1290.7,726.1 1293.2,724.4 1295.6,722.7 1298.1,721.0 1300.6,719.3 1303.0,717.5 1305.5,715.8 1308.0,714.1 1310.4,712.4 1312.8,710.6 1315.2,708.8 1317.5,706.9 1319.9,705.0 1322.1,703.1 1324.4,701.1 1326.6,699.0 1328.7,697.0 1330.9,694.8 1332.9,692.7 1334.9,690.4 1336.8,688.1 1338.7,685.8 1340.5,683.4 1342.2,680.9 1343.8,678.4 1345.4,675.9 1346.9,673.3 1348.4,670.7 1349.8,668.1 1351.3,665.4 1352.7,662.8 1354.1,660.1 1355.5,657.4 1356.8,654.8 1358.2,652.1 1359.6,649.4 1360.9,646.8 1362.2,644.1 1363.6,641.4 1364.9,638.7 1366.2,636.0 1367.5,633.3 1368.8,630.6 1370.2,627.9 1371.5,625.2 1372.8,622.5 1374.2,619.9 1375.6,617.2 1377.0,614.6 1378.4,611.9 1379.8,609.3 1381.1,606.6 1382.4,603.9 1383.6,601.1 1384.7,598.3 1385.7,595.5 1386.8,592.7 1387.8,589.9 1388.8,587.0 1389.7,584.2 1390.7,581.4 1391.7,578.5 1392.6,575.7 1393.6,572.8 1394.5,570.0 1395.5,567.1 1396.4,564.3 1397.4,561.5 1398.4,558.6 1399.4,555.8 1400.4,553.0 1401.4,550.2 1402.3,547.3 1403.2,544.4 1404.0,541.6 1404.7,538.7 1405.4,535.7 1406.1,532.8 1406.7,529.9 1407.3,526.9 1408.0,524.0 1408.6,521.1 1409.2,518.1 1409.8,515.2 1410.4,512.3 1411.0,509.3 1411.5,506.4 1412.1,503.4 1412.7,500.5 1413.3,497.5 1413.9,494.6 1414.5,491.7 1415.1,488.7 1415.6,485.8 1416.2,482.8 1416.8,479.9 1417.4,476.9 1418.0,474.0 1418.6,471.1 1419.2,468.1 1419.8,465.2 1420.4,462.2 1421.0,459.3 1421.6,456.3 1422.2,453.4 1422.8,450.5 1423.4,447.5 1424.0,444.6 1424.6,441.7 1425.3,438.7 1425.9,435.8 1426.6,432.9 1427.2,429.9 1427.9,427.0 1428.6,424.1 1429.2,421.2 1429.9,418.2 1430.6,415.3 1431.3,412.4 1432.0,409.5 1432.7,406.6 1433.4,403.7 1434.1,400.7 1434.8,397.8 1435.5,394.9 1436.2,392.0 1436.9,389.1 1437.6,386.1 1438.3,383.2 1439.0,380.3 1439.7,377.4 1440.4,374.5 1441.0,371.5 1441.7,368.6 1442.4,365.7 1443.0,362.8 1443.7,359.8 1444.3,356.9 1444.9,354.0 1445.5,351.0 1446.1,348.1 1446.7,345.1 1447.3,342.2 1447.9,339.3 1448.4,336.3 1449.0,333.3 1449.5,330.4 1450.0,327.4 1450.5,324.5 1451.0,321.5 1451.4,318.6 1451.9,315.6 1452.4,312.6 1452.8,309.7 1453.3,306.7 1453.7,303.7 1454.1,300.8 1454.5,297.8 1454.9,294.8 1455.3,291.8 1455.7,288.9 1456.1,285.9 1456.5,282.9 1456.9,279.9 1457.3,277.0 1457.7,274.0 1458.0,271.0 1458.4,268.0 1458.8,265.0 1459.1,262.1 1459.5,259.1 1459.9,256.1 1460.2,253.1 1460.6,250.2 1460.9,247.2 1461.3,244.2 1461.7,241.2 1462.0,238.2 1462.4,235.3 1462.7,232.3 1463.1,229.3 1463.4,226.3 1463.8,223.3 1464.1,220.3 1464.4,217.4 1464.7,214.4 1465.0,211.4 1465.3,208.4 1465.6,205.4 1465.9,202.4 1466.1,199.4 1466.4,196.5 1466.6,193.5 1466.9,190.5 1467.2,187.5 1467.4,184.5 1467.7,181.5 1468.0,178.5 1468.3,175.5 1468.6,172.6 1469.0,169.6 1469.3,166.6 1469.7,163.6 1470.1,160.6 1470.5,157.7 1470.9,154.7 1471.4,151.7 1471.8,148.8 1472.2,145.8 1472.7,142.8 1473.2,139.9 1473.8,136.9 1474.5,134.0 1475.4,131.2 1477.1,129.3 1478.9,131.4 1479.9,134.2 1480.7,137.1 1481.4,140.0 1482.1,143.0 1482.7,145.9 1483.3,148.8 1483.9,151.8 1484.5,154.7 1485.1,157.7 1485.6,160.6 1486.2,163.6 1486.8,166.5 1487.3,169.4 1487.9,172.4 1488.4,175.3 1489.0,178.3 1489.5,181.3 1490.0,184.2 1490.5,187.2 1491.0,190.1 1491.5,193.1 1492.0,196.1 1492.4,199.0 1492.9,202.0 1493.4,204.9 1493.8,207.9 1494.3,210.9 1494.7,213.8 1495.1,216.8 1495.6,219.8 1496.0,222.8 1496.4,225.7 1496.8,228.7 1497.2,231.7 1497.6,234.6 1498.0,237.6 1498.4,240.6 1498.8,243.6 1499.2,246.5 1499.6,249.5 1499.9,252.5 1500.3,255.5 1500.7,258.5 1501.1,261.4 1501.4,264.4 1501.8,267.4 1502.2,270.4 1502.5,273.3 1502.9,276.3 1503.2,279.3 1503.6,282.3 1504.0,285.3 1504.3,288.2 1504.7,291.2 1505.0,294.2 1505.4,297.2 1505.8,300.2 1506.1,303.1 1506.5,306.1 1506.8,309.1 1507.2,312.1 1507.6,315.1 1507.9,318.0 1508.3,321.0 1508.6,324.0 1509.0,327.0 1509.4,329.9 1509.7,332.9 1510.1,335.9 1510.5,338.9 1510.9,341.9 1511.2,344.8 1511.6,347.8 1512.0,350.8 1512.3,353.8 1512.7,356.7 1513.1,359.7 1513.5,362.7 1513.8,365.7 1514.2,368.7 1514.6,371.6 1514.9,374.6 1515.3,377.6 1515.7,380.6 1516.1,383.5 1516.4,386.5 1516.8,389.5 1517.2,392.5 1517.6,395.5 1517.9,398.4 1518.3,401.4 1518.7,404.4 1519.0,407.4 1519.4,410.3 1519.8,413.3 1520.2,416.3 1520.5,419.3 1520.9,422.3 1521.3,425.2 1521.7,428.2 1522.0,431.2 1522.4,434.2 1522.8,437.1 1523.1,440.1 1523.5,443.1 1523.9,446.1 1524.2,449.1 1524.6,452.0 1524.9,455.0 1525.3,458.0 1525.6,461.0 1526.0,464.0 1526.3,466.9 1526.7,469.9 1527.0,472.9 1527.4,475.9 1527.7,478.9 1528.1,481.8 1528.4,484.8 1528.8,487.8 1529.1,490.8 1529.5,493.8 1529.8,496.7 1530.2,499.7 1530.6,502.7 1531.0,505.7 1531.4,508.6 1531.8,511.6 1532.2,514.6 1532.7,517.5 1533.1,520.5 1533.6,523.5 1534.1,526.4 1534.6,529.4 1535.1,532.3 1535.7,535.3 1536.2,538.2 1536.8,541.2 1537.4,544.1 1538.0,547.1 1538.6,550.0 1539.3,552.9 1539.9,555.9 1540.5,558.8 1541.2,561.7 1541.8,564.7 1542.4,567.6 1543.1,570.5 1543.7,573.5 1544.3,576.4 1544.9,579.4 1545.5,582.3 1546.1,585.2 1546.6,588.2 1547.2,591.1 1547.8,594.1 1548.4,597.0 1549.0,599.9 1549.6,602.9 1550.2,605.8 1550.8,608.8 1551.3,611.7 1551.9,614.7 1552.5,617.6 1553.1,620.6 1553.7,623.5 1554.2,626.4 1554.8,629.4 1555.3,632.3 1555.9,635.3 1556.5,638.2 1557.0,641.2 1557.6,644.1 1558.2,647.1 1558.7,650.0 1559.3,653.0 1559.9,655.9 1560.5,658.9 1561.1,661.8 1561.7,664.7 1562.3,667.7 1563.0,670.6 1563.6,673.5 1564.3,676.5 1565.0,679.4 1565.7,682.3 1566.4,685.2 1567.1,688.1 1567.8,691.0 1568.6,693.9 1569.3,696.8 1570.1,699.7 1570.9,702.6 1571.7,705.5 1572.5,708.4 1573.3,711.3 1574.2,714.2 1575.1,717.0 1576.0,719.9 1577.1,722.7 1578.1,725.5 1579.3,728.3 1580.5,731.0" stroke="#ff00ff" stroke-width="16"/>
<path d="M1584.5,739.0 1585.3,741.9 1586.1,744.8 1586.9,747.7 1587.7,750.6 1588.5,753.5 1589.2,756.4 1590.0,759.3 1590.8,762.2 1591.6,765.1 1592.5,768.0 1593.3,770.8 1594.1,773.7 1594.9,776.6 1595.8,779.5 1596.6,782.4 1597.5,785.3 1598.4,788.1 1599.2,791.0 1600.1,793.9 1601.0,796.7 1602.0,799.6 1602.9,802.4 1604.0,805.3 1605.0,808.1 1606.1,810.9 1607.2,813.7 1608.4,816.4 1609.5,819.2 1610.8,821.9 1612.0,824.6 1613.3,827.4 1614.6,830.1 1615.9,832.8 1617.2,835.5 1618.6,838.2 1619.9,840.8 1621.3,843.5 1622.6,846.2 1624.0,848.9 1625.3,851.6 1626.7,854.2 1628.1,856.9 1629.5,859.5 1630.9,862.2 1632.4,864.8 1633.9,867.4 1635.4,870.0 1637.0,872.5 1638.6,875.0 1640.3,877.5 1642.1,879.9 1644.0,882.2 1645.9,884.6 1647.8,886.9 1649.8,889.2 1651.6,891.5 1653.5,893.9 1655.2,896.3 1656.9,898.8 1658.4,901.3 1659.9,903.9 1661.3,906.6 1662.7,909.3 1664.0,912.0 1665.2,914.7 1666.5,917.4 1667.7,920.2 1669.0,922.9 1670.2,925.6 1671.5,928.3 1672.8,931.0 1674.2,933.7 1675.5,936.4 1677.0,939.0 1678.4,941.6 1679.9,944.2 1681.4,946.8 1683.0,949.4 1684.6,951.9 1686.2,954.5 1687.8,957.0 1689.4,959.5 1691.1,962.1 1692.7,964.6 1694.4,967.1 1696.0,969.6 1697.7,972.1 1699.4,974.6 1701.1,977.1 1702.7,979.5 1704.4,982.0 1706.1,984.5 1707.8,987.0 1709.5,989.5 1711.2,992.0 1712.9,994.4 1714.6,996.9 1716.3,999.4 1718.0,1001.9 1719.6,1004.4 1721.3,1006.9 1723.0,1009.4 1724.6,1011.9 1726.2,1014.4 1727.9,1016.9 1729.5,1019.5 1731.1,1022.0 1732.8,1024.5 1734.5,1026.9 1736.3,1029.3 1738.2,1031.6 1740.2,1033.8 1742.2,1036.0 1744.3,1038.2 1746.5,1040.2 1748.7,1042.3 1750.9,1044.3 1753.2,1046.3 1755.4,1048.3 1757.7,1050.2 1760.0,1052.2 1762.2,1054.2 1764.5,1056.1 1766.8,1058.1 1769.0,1060.1 1771.3,1062.1 1773.5,1064.1 1775.7,1066.2 1777.9,1068.2 1780.1,1070.3 1782.2,1072.4 1784.4,1074.5 1786.5,1076.6 1788.6,1078.7 1790.8,1080.8 1792.9,1082.9 1795.0,1085.0 1797.2,1087.1 1799.4,1089.2 1801.5,1091.3 1803.7,1093.3 1806.0,1095.3 1808.2,1097.3 1810.5,1099.3 1812.8,1101.2 1815.1,1103.1 1817.4,1105.0 1819.7,1106.9 1822.1,1108.8 1824.5,1110.6 1826.9,1112.4 1829.3,1114.2 1831.7,1116.0 1834.2,1117.7 1836.6,1119.4 1839.1,1121.1 1841.6,1122.7 1844.2,1124.3 1846.7,1125.9 1849.3,1127.5 1851.9,1129.0 1854.5,1130.4 1857.1,1131.9 1859.8,1133.3 1862.5,1134.6 1865.2,1136.0 1867.9,1137.3 1870.6,1138.6 1873.3,1139.9 1876.0,1141.2 1878.7,1142.5 1881.4,1143.8 1884.1,1145.1 1886.8,1146.3 1889.5,1147.6 1892.3,1148.9 1895.0,1150.2 1897.7,1151.4 1900.4,1152.7 1903.2,1153.9 1905.9,1155.2 1908.6,1156.4 1911.4,1157.6 1914.2,1158.8 1916.9,1160.0 1919.7,1161.1 1922.5,1162.3 1925.3,1163.4 1928.0,1164.5 1930.8,1165.6 1933.7,1166.6 1936.5,1167.7 1939.3,1168.7 1942.1,1169.7 1944.9,1170.7 1947.8,1171.7 1950.6,1172.7 1953.5,1173.6 1956.3,1174.5 1959.2,1175.5 1962.1,1176.4 1964.9,1177.2 1967.8,1178.1 1970.7,1178.9 1973.6,1179.7 1976.5,1180.5 1979.4,1181.3 1982.3,1182.0 1985.2,1182.7 1988.1,1183.4 1991.1,1184.1 1994.0,1184.7 1996.9,1185.4 1999.9,1186.0 2002.8,1186.7 2005.7,1187.4 2008.6,1188.1 2011.6,1188.8 2014.5,1189.5 2017.4,1190.2 2020.3,1191.0 2023.2,1191.7 2026.1,1192.5 2029.0,1193.3 2031.9,1194.1 2034.8,1195.0 2037.6,1195.8 2040.5,1196.6 2043.4,1197.4 2046.3,1198.3 2049.2,1199.1 2052.1,1199.9 2054.0,1200.5" stroke="#ff00ff" stroke-width="16"/>
<path d="M321.0,1315.0 322.3,1317.7 323.7,1320.4 325.0,1323.1 326.3,1325.8 327.6,1328.5 328.8,1331.2 330.0,1334.0 331.2,1336.7 332.4,1339.5 333.5,1342.3 334.6,1345.0 335.8,1347.8 336.9,1350.6 338.0,1353.4 339.0,1356.2 340.1,1359.0 341.1,1361.8 342.1,1364.6 343.1,1367.5 344.1,1370.3 345.1,1373.2 346.0,1376.0 346.9,1378.9 347.9,1381.7 348.8,1384.6 349.7,1387.4 350.6,1390.3 351.5,1393.1 352.5,1396.0 353.4,1398.8 354.3,1401.7 355.3,1404.5 356.2,1407.4 357.2,1410.2 358.2,1413.1 359.2,1415.9 360.2,1418.7 361.2,1421.5 362.4,1424.3 363.6,1427.0 364.9,1429.7 366.5,1432.1 368.4,1434.1 370.5,1435.2 372.7,1435.0 374.7,1433.6 376.4,1431.4 377.8,1428.8 378.9,1426.1 379.9,1423.2 380.9,1420.4 381.8,1417.5 382.8,1414.7 383.8,1411.9 384.8,1409.0 385.8,1406.2 386.8,1403.4 387.8,1400.6 388.7,1397.7 389.7,1394.9 390.5,1392.0 391.3,1389.1 392.1,1386.2 392.8,1383.3 393.4,1380.4 394.1,1377.4 394.7,1374.5 395.3,1371.6 395.9,1368.6 396.5,1365.7 397.1,1362.7 397.6,1359.8 398.2,1356.8 398.7,1353.9 399.3,1350.9 399.8,1348.0 400.3,1345.0 400.8,1342.1 401.3,1339.1 401.8,1336.1 402.3,1333.2 402.8,1330.2 403.2,1327.3 403.7,1324.3 404.1,1321.3 404.5,1318.4 405.0,1315.4 405.4,1312.4 405.8,1309.4 406.3,1306.5 406.7,1303.5 407.1,1300.5 407.5,1297.6 407.9,1294.6 408.4,1291.6 408.8,1288.7 409.2,1285.7 409.6,1282.7 410.0,1279.7 410.5,1276.8 410.9,1273.8 411.3,1270.8 411.7,1267.9 412.1,1264.9 412.5,1261.9 412.9,1258.9 413.3,1256.0 413.7,1253.0 414.0,1250.0 414.4,1247.0 414.8,1244.0 415.1,1241.1 415.4,1238.1 415.8,1235.1 416.1,1232.1 416.3,1229.1 416.6,1226.1 416.9,1223.2 417.2,1220.2 417.4,1217.2 417.7,1214.2 417.9,1211.2 418.2,1208.2 418.5,1205.2 418.8,1202.2 419.1,1199.3 419.4,1196.3 419.8,1193.3 420.1,1190.3 420.5,1187.3 420.9,1184.4 421.3,1181.4 421.6,1178.4 422.0,1175.4 422.3,1172.5 422.6,1169.5 422.9,1166.5 423.2,1163.5 423.5,1160.5 423.8,1157.5 424.0,1154.5 424.3,1151.5 424.5,1148.6 424.7,1145.6 425.0,1142.6 425.2,1139.6 425.4,1136.6 425.6,1133.6 425.8,1130.6 426.0,1127.6 426.2,1124.6 426.4,1121.6 426.6,1118.6 426.8,1115.6 427.0,1112.6 427.2,1109.6 427.3,1106.6 427.5,1103.7 427.7,1100.7 427.9,1097.7 428.1,1094.7 428.2,1091.7 428.4,1088.7 428.6,1085.7 428.8,1082.7 429.0,1079.7 429.2,1076.7 429.4,1073.7 429.6,1070.7 429.8,1067.7 430.0,1064.7 430.2,1061.7 430.4,1058.7 430.6,1055.8 430.8,1052.8 431.1,1049.8 431.3,1046.8 431.5,1043.8 431.7,1040.8 432.0,1037.8 432.2,1034.8 432.5,1031.8 432.7,1028.8 433.0,1025.8 433.3,1022.9 433.5,1019.9 433.8,1016.9 434.1,1013.9 434.4,1010.9 434.7,1007.9 435.0,1004.9 435.3,1002.0 435.5,999.0 435.8,996.0 436.1,993.0 436.4,990.0 436.8,987.0 437.1,984.0 437.4,981.1 437.7,978.1 438.0,975.1 438.3,972.1 438.6,969.1 439.0,966.1 439.3,963.2 439.6,960.2 440.0,957.2 440.3,954.2 440.7,951.2 441.1,948.3 441.5,945.3 441.9,942.3 442.4,939.4 442.8,936.4 443.2,933.4 443.6,930.5 444.0,927.5 444.4,924.5 444.8,921.5 445.1,918.6 445.5,915.6 446.0,912.6 447.3,911.7 448.1,914.5 448.7,917.5 449.3,920.4 449.8,923.3 450.3,926.3 450.7,929.3 451.1,932.2 451.5,935.2 451.8,938.2 452.2,941.2 452.6,944.2 452.9,947.1 453.2,950.1 453.5,953.1 453.8,956.1 454.1,959.1 454.4,962.1 454.6,965.0 454.9,968.0 455.2,971.0 455.5,974.0 455.7,977.0 456.0,980.0 456.3,983.0 456.6,986.0 456.9,988.9 457.1,991.9 457.4,994.9 457.7,997.9 458.0,1000.9 458.4,1003.9 458.7,1006.9 459.1,1009.8 459.4,1012.8 459.8,1015.8 460.2,1018.8 460.5,1021.7 460.9,1024.7 461.4,1027.7 461.8,1030.7 462.2,1033.6 462.6,1036.6 463.1,1039.6 463.5,1042.5 464.0,1045.5 464.4,1048.5 464.9,1051.4 465.4,1054.4 465.8,1057.3 466.3,1060.3 466.8,1063.3 467.2,1066.2 467.7,1069.2 468.2,1072.2 468.7,1075.1 469.2,1078.1 469.7,1081.0 470.2,1084.0 470.7,1086.9 471.3,1089.9 471.9,1092.8 472.4,1095.8 473.1,1098.7 473.7,1101.7 474.4,1104.6 475.0,1107.5 475.8,1110.4 476.5,1113.3 477.3,1116.2 478.1,1119.1 478.9,1122.0 479.8,1124.9 480.7,1127.7 481.6,1130.6 482.5,1133.4 483.4,1136.3 484.4,1139.1 485.4,1142.0 486.4,1144.8 487.5,1147.6 488.6,1150.4 489.8,1153.1 491.1,1155.8 492.4,1158.5 493.9,1161.1 495.3,1163.8 496.9,1166.3 498.4,1168.9 500.1,1171.4 501.7,1173.9 503.4,1176.4 505.0,1178.9 506.7,1181.4 508.4,1183.8 510.1,1186.3 511.8,1188.8 513.5,1191.3 515.2,1193.8 516.8,1196.3 518.5,1198.8 520.1,1201.3 521.7,1203.8 523.4,1206.3 525.1,1208.8 526.7,1211.3 528.4,1213.8 530.2,1216.2 532.0,1218.6 533.8,1221.0 535.7,1223.3 537.6,1225.6 539.6,1227.9 541.6,1230.1 543.7,1232.2 545.8,1234.4 548.0,1236.5 550.1,1238.5 552.3,1240.6 554.6,1242.5 556.9,1244.3 559.4,1245.6 562.0,1246.2 564.7,1245.8 567.3,1244.8 569.8,1243.2 572.2,1241.4 574.4,1239.4 576.5,1237.2 578.5,1235.0 580.4,1232.7 582.3,1230.4 584.1,1228.0 586.0,1225.6 587.8,1223.2 589.6,1220.9 591.4,1218.4 593.2,1216.0 594.9,1213.6 596.7,1211.1 598.5,1208.8 600.5,1206.6 602.7,1204.6 605.1,1202.8 607.6,1201.3 610.3,1200.0 613.1,1199.0 616.0,1198.5 618.9,1198.4 621.8,1198.8 624.5,1199.7 627.1,1201.1 629.5,1202.9 631.6,1205.0 633.5,1207.3 635.2,1209.7 636.9,1212.2 638.5,1214.7 640.0,1217.3 641.5,1219.9 643.0,1222.5 644.4,1225.1 645.8,1227.8 647.2,1230.5 648.6,1233.1 650.1,1235.7 651.7,1238.3 653.3,1240.8 655.0,1243.2 656.8,1245.6 658.7,1248.0 660.6,1250.3 662.6,1252.5 664.7,1254.7 666.8,1256.7 669.1,1258.7 671.4,1260.5 674.0,1262.1 676.6,1263.4 679.4,1264.5 682.3,1265.3 685.2,1265.9 688.2,1266.2 691.1,1266.3 694.1,1266.0 697.0,1265.5 699.9,1264.8 702.8,1263.9 705.6,1262.9 708.4,1261.8 711.2,1260.7 713.9,1259.5 716.7,1258.2 719.4,1257.0 722.1,1255.8 724.9,1254.6 727.6,1253.4 730.4,1252.2 733.2,1251.1 736.0,1250.0 738.8,1248.9 741.6,1247.9 744.4,1246.9 747.3,1246.0 750.1,1245.0 753.0,1244.1 755.8,1243.2 758.7,1242.3 761.5,1241.3 764.4,1240.3 767.2,1239.3 770.0,1238.3 772.8,1237.2 775.6,1236.1 778.4,1235.1 781.3,1234.1 784.1,1233.1 786.9,1232.1 789.8,1231.2 792.6,1230.3 795.5,1229.4 798.3,1228.4 801.2,1227.5 804.0,1226.5 806.8,1225.5 809.6,1224.4 812.4,1223.3 815.2,1222.2 818.0,1221.0 820.7,1219.8 823.5,1218.6 826.2,1217.4 829.0,1216.2 831.7,1214.9 834.4,1213.7 837.1,1212.4 839.9,1211.2 842.6,1209.9 845.3,1208.7 848.1,1207.5 850.8,1206.3 853.6,1205.1 856.4,1204.0 859.2,1202.9 862.0,1201.8 864.7,1200.7 867.5,1199.6 870.3,1198.5 873.1,1197.3 875.8,1196.1 878.6,1194.9 881.3,1193.7 884.0,1192.4 886.7,1191.1 889.4,1189.7 892.0,1188.3 894.7,1186.9 897.3,1185.4 899.9,1184.0 902.5,1182.5 905.1,1181.0 907.7,1179.5 910.3,1178.0 912.9,1176.4 915.4,1174.8 918.0,1173.3 920.5,1171.6 923.0,1170.0 925.5,1168.4 928.0,1166.7 930.5,1165.0 932.9,1163.2 935.3,1161.4 937.7,1159.6 940.1,1157.8 942.4,1155.9 944.7,1154.0 947.0,1152.1 949.3,1150.2 951.6,1148.2 953.9,1146.2 956.1,1144.3 958.4,1142.3 960.7,1140.3 962.9,1138.4 965.2,1136.4 967.4,1134.4 969.7,1132.4 972.0,1130.5 974.2,1128.5 976.5,1126.5 978.7,1124.5 980.9,1122.5 983.1,1120.5 985.3,1118.4 987.5,1116.4 989.7,1114.3 991.9,1112.2 994.0,1110.2 996.2,1108.0 998.3,1105.9 1000.4,1103.8 1002.4,1101.6 1004.5,1099.4 1006.5,1097.2 1008.6,1095.0 1010.6,1092.8 1012.6,1090.5 1014.6,1088.3 1016.6,1086.0 1018.5,1083.8 1020.5,1081.5 1022.5,1079.3 1024.5,1077.0 1026.5,1074.8 1028.4,1072.5 1030.4,1070.3 1032.5,1068.1 1034.5,1065.9 1036.5,1063.6 1038.6,1061.4 1040.6,1059.3 1042.7,1057.1 1044.7,1054.9 1046.8,1052.7 1048.8,1050.5 1050.9,1048.3 1052.9,1046.1 1054.9,1043.9 1056.9,1041.7 1058.9,1039.4 1060.9,1037.1 1062.8,1034.8 1064.6,1032.5 1066.5,1030.1 1068.3,1027.7 1070.0,1025.3 1071.7,1022.8 1073.4,1020.3 1075.0,1017.8 1076.6,1015.2 1078.1,1012.7 1079.6,1010.1 1081.1,1007.5 1082.6,1004.9 1084.1,1002.3 1085.5,999.6 1086.9,997.0 1088.4,994.4 1089.8,991.7 1091.2,989.1 1092.7,986.5 1094.1,983.8 1095.6,981.2 1097.1,978.6 1098.6,976.0 1100.2,973.5 1101.7,970.9 1103.3,968.3 1104.8,965.8 1106.4,963.2 1107.9,960.6 1109.5,958.1 1111.1,955.5 1112.6,952.9 1114.1,950.3 1115.6,947.7 1117.1,945.1 1118.5,942.5 1120.0,939.9 1121.4,937.2 1122.8,934.6 1124.2,931.9 1125.5,929.2 1126.9,926.6 1128.2,923.9 1129.5,921.2 1130.8,918.5 1132.1,915.8 1133.4,913.0 1134.6,910.3 1135.8,907.6 1137.0,904.8 1138.2,902.0 1139.3,899.3 1140.4,896.5 1141.5,893.7 1142.6,890.9 1143.7,888.1 1144.8,885.3 1145.9,882.5 1147.0,879.7 1148.0,876.9 1149.1,874.1 1150.2,871.3 1151.3,868.5 1152.3,865.7 1153.4,862.9 1154.4,860.1 1155.5,857.3 1156.5,854.5 1157.6,851.7 1158.6,848.8 1159.7,846.0 1160.7,843.2 1161.8,840.4 1162.8,837.6 1163.9,834.8 1164.9,832.0 1166.0,829.2 1167.0,826.3 1168.1,823.5 1169.1,820.7 1170.2,817.9 1171.2,815.1 1172.3,812.3 1173.3,809.5 1174.4,806.7 1175.5,803.9 1176.6,801.1 1177.7,798.3 1178.7,795.5 1179.8,792.7 1180.9,789.9 1182.1,787.1 1183.2,784.4 1184.3,781.6 1185.5,778.8 1186.6,776.1 1187.8,773.3 1189.0,770.5 1190.2,767.8 1191.4,765.0 1192.7,762.3 1193.9,759.6 1195.2,756.9 1196.5,754.2 1197.8,751.5 1199.1,748.8 1200.5,746.1 1201.9,743.5 1203.3,740.8 1204.8,738.2 1206.3,735.6 1207.8,733.0 1209.3,730.4 1210.8,727.8 1212.3,725.2 1213.9,722.7 1215.4,720.1 1217.0,717.6 1218.6,715.0 1220.2,712.4 1221.7,709.9 1223.3,707.3 1224.9,704.8 1226.5,702.3 1228.1,699.7 1229.7,697.2 1231.2,694.6 1232.8,692.1 1234.4,689.5 1236.0,687.0 1237.6,684.5 1239.3,681.9 1240.9,679.4 1242.5,676.9 1244.2,674.4 1245.8,671.9 1247.5,669.4 1249.1,666.9 1250.8,664.4 1252.4,661.9 1254.0,659.3 1255.7,656.8 1257.3,654.3 1258.9,651.8 1260.5,649.2 1262.1,646.7 1263.7,644.1 1265.2,641.6 1266.8,639.0 1268.3,636.4 1269.8,633.8 1271.2,631.2 1272.6,628.5 1274.0,625.9 1275.4,623.2 1276.7,620.5 1278.0,617.8 1279.2,615.1 1280.4,612.3 1281.6,609.6 1282.8,606.8 1283.9,604.0 1285.0,601.2 1286.1,598.4 1287.2,595.6 1288.2,592.8 1289.3,590.0 1290.4,587.2 1291.4,584.4 1292.5,581.6 1293.6,578.8 1294.6,576.0 1295.7,573.2 1296.9,570.4 1298.0,567.7 1299.2,564.9 1300.4,562.2 1301.6,559.4 1302.9,556.7 1304.2,554.0 1305.5,551.3 1306.8,548.6 1308.1,545.9 1309.5,543.3 1310.9,540.6 1312.4,538.0 1313.8,535.4 1315.4,532.8 1316.9,530.2 1318.6,527.7 1320.2,525.2 1321.9,522.7 1323.6,520.3 1325.4,517.9 1327.2,515.5 1329.1,513.1 1330.9,510.8 1332.9,508.5 1335.0,506.4 1337.1,504.3 1339.3,502.3 1341.6,500.5 1344.1,498.7 1346.6,497.2 1349.2,495.8 1351.9,494.5 1354.7,493.3 1357.5,492.3 1360.3,491.4 1363.2,490.6 1366.1,489.9 1369.0,489.3 1372.0,488.7 1374.9,488.3 1377.9,487.9 1380.9,487.6 1383.8,487.4 1386.8,487.4 1389.8,487.5 1392.8,487.7 1395.7,488.1 1398.7,488.6 1401.6,489.3 1404.4,490.2 1407.2,491.1 1410.0,492.2 1412.8,493.3 1415.5,494.6 1418.2,495.8 1420.9,497.2 1423.5,498.7 1426.1,500.2 1428.6,501.8 1431.0,503.6 1433.4,505.4 1435.7,507.3 1437.9,509.3 1440.0,511.4 1442.1,513.5 1444.1,515.8 1446.1,518.0 1447.9,520.4 1449.7,522.8 1451.5,525.2 1453.2,527.7 1454.8,530.2 1456.4,532.7 1458.0,535.3 1459.5,537.9 1461.0,540.5 1462.4,543.1 1463.7,545.8 1465.0,548.5 1466.2,551.2 1467.4,554.0 1468.6,556.7 1469.7,559.5 1470.8,562.3 1471.9,565.1 1472.9,567.9 1473.9,570.8 1474.9,573.6 1475.9,576.4 1476.9,579.2 1477.9,582.1 1478.9,584.9 1479.9,587.8 1480.8,590.6 1481.8,593.4 1482.8,596.2 1483.9,599.1 1484.9,601.9 1486.0,604.7 1487.0,607.5 1488.1,610.3 1489.2,613.1 1490.4,615.8 1491.5,618.6 1492.7,621.4 1493.8,624.1 1495.0,626.9 1496.2,629.7 1497.4,632.4 1498.5,635.2 1499.7,638.0 1500.9,640.7 1502.0,643.5 1503.1,646.3 1504.3,649.1 1505.4,651.8 1506.5,654.6 1507.7,657.4 1508.8,660.2 1510.0,662.9 1511.2,665.7 1512.4,668.4 1513.6,671.2 1514.8,673.9 1516.1,676.6 1517.4,679.3 1518.7,682.0 1520.0,684.7 1521.3,687.4 1522.6,690.1 1524.0,692.8 1525.3,695.5 1526.6,698.2 1527.9,700.9 1529.2,703.6 1530.5,706.3 1531.8,709.0 1533.1,711.7 1534.4,714.4 1535.7,717.1 1537.0,719.8 1538.3,722.5 1539.6,725.2 1541.0,727.9 1542.3,730.6 1543.7,733.3 1545.0,735.9 1546.4,738.6 1547.8,741.3 1549.2,743.9 1550.6,746.6 1552.0,749.2 1553.4,751.9 1554.8,754.5 1556.2,757.2 1557.6,759.8 1559.0,762.5 1560.4,765.1 1561.9,767.8 1563.3,770.4 1564.7,773.0 1566.2,775.7 1567.6,778.3 1569.1,780.9 1570.5,783.5 1572.0,786.2 1573.5,788.8 1574.9,791.4 1576.4,794.0 1577.9,796.6 1579.4,799.2 1580.9,801.8 1582.4,804.4 1584.0,807.0 1585.5,809.6 1587.0,812.1 1588.5,814.7 1590.0,817.3 1591.5,820.0 1592.9,822.6 1594.4,825.2 1595.9,827.8 1597.4,830.4 1598.9,833.0 1600.3,835.6 1601.8,838.2 1603.4,840.8 1604.9,843.4 1606.4,845.9 1608.0,848.5 1609.6,851.1 1611.2,853.6 1612.8,856.1 1614.4,858.6 1616.0,861.2 1617.7,863.7 1619.4,866.2 1621.0,868.7 1622.7,871.1 1624.4,873.6 1626.1,876.1 1627.8,878.6 1629.5,881.0 1631.3,883.5 1633.0,885.9 1634.8,888.3 1636.5,890.8 1638.3,893.2 1640.1,895.6 1641.8,898.0 1643.6,900.4 1645.4,902.9 1647.2,905.3 1649.0,907.7 1650.8,910.1 1652.5,912.5 1654.3,914.9 1656.1,917.3 1657.9,919.7 1659.8,922.1 1661.6,924.4 1663.5,926.8 1665.4,929.1 1667.3,931.5 1669.2,933.8 1671.1,936.1 1673.0,938.4 1674.9,940.7 1676.9,943.0 1678.8,945.3 1680.8,947.5 1682.7,949.8 1684.7,952.1 1686.6,954.4 1688.6,956.6 1690.5,958.9 1692.5,961.2 1694.5,963.4 1696.5,965.7 1698.4,967.9 1700.4,970.2 1702.4,972.4 1704.4,974.7 1706.4,976.9 1708.5,979.1 1710.5,981.3 1712.6,983.5 1714.6,985.6 1716.7,987.8 1718.9,989.9 1721.0,992.0 1723.2,994.1 1725.4,996.1 1727.6,998.1 1729.8,1000.1 1732.1,1002.1 1734.4,1004.1 1736.6,1006.0 1738.9,1008.0 1741.1,1010.0 1743.4,1011.9 1745.7,1013.9 1748.0,1015.8 1750.3,1017.8 1752.5,1019.7 1754.8,1021.7 1757.1,1023.6 1759.4,1025.5 1761.7,1027.5 1764.0,1029.4 1766.3,1031.4 1768.5,1033.3 1770.8,1035.3 1773.0,1037.3 1775.3,1039.3 1777.5,1041.4 1779.7,1043.4 1781.8,1045.5 1784.0,1047.5 1786.1,1049.6 1788.3,1051.7 1790.4,1053.8 1792.6,1055.9 1794.7,1058.0 1796.9,1060.1 1799.0,1062.2 1801.2,1064.3 1803.4,1066.3 1805.6,1068.4 1807.8,1070.4 1810.0,1072.4 1812.2,1074.4 1814.5,1076.4 1816.8,1078.4 1819.0,1080.3 1821.3,1082.3 1823.6,1084.2 1825.9,1086.1 1828.3,1088.0 1830.6,1089.9 1833.0,1091.7 1835.3,1093.6 1837.7,1095.3 1840.2,1097.1 1842.6,1098.8 1845.1,1100.5 1847.6,1102.1 1850.2,1103.7 1852.7,1105.2 1855.3,1106.7 1858.0,1108.2 1860.6,1109.6 1863.3,1111.0 1866.0,1112.3 1868.7,1113.6 1871.4,1114.9 1874.1,1116.2 1876.8,1117.5 1879.5,1118.8 1882.2,1120.1 1884.9,1121.4 1887.6,1122.7 1890.3,1123.9 1893.1,1125.2 1895.8,1126.4 1898.5,1127.7 1901.3,1128.9 1904.0,1130.1 1906.7,1131.3 1909.5,1132.5 1912.2,1133.8 1915.0,1135.0 1917.7,1136.2 1920.5,1137.4 1923.2,1138.6 1926.0,1139.8 1928.7,1141.0 1931.5,1142.2 1934.2,1143.4 1936.9,1144.7 1939.7,1145.9 1942.4,1147.2 1945.1,1148.4 1947.9,1149.6 1950.6,1150.8 1953.4,1152.0 1956.2,1153.1 1958.9,1154.2 1961.7,1155.3 1964.6,1156.3 1967.4,1157.3 1970.3,1158.2 1973.1,1159.0 1976.0,1159.8 1978.9,1160.5 1981.9,1161.2 1984.8,1161.8 1987.7,1162.4 1990.7,1162.9 1993.6,1163.4 1996.6,1163.9 1999.6,1164.4 2002.5,1164.9 2005.5,1165.4 2008.4,1165.9 2011.4,1166.4 2014.3,1167.0 2017.3,1167.6 2020.2,1168.3 2023.1,1168.9 2026.0,1169.7 2028.9,1170.4 2031.8,1171.2 2034.7,1172.0 2037.6,1172.8 2040.5,1173.6 2043.4,1174.4 2046.3,1175.3 2049.1,1176.1 2052.0,1177.0" stroke="#00ff00" stroke-width="16"/>
</g>
<g stroke-width="4" fill="none">
<line x1="2054" y1="508" x2="2054" y2="670" stroke="#c02020"/>
<line x1="2054" y1="670" x2="2054" y2="726" stroke="#0000c0"/>
<line x1="2054" y1="726" x2="2054" y2="763" stroke="#e000e0"/>
<line x1="2054" y1="763" x2="2054" y2="1187" stroke="#00e000"/>
</g>
<line x1="309" y1="944.8" x2="2056" y2="944.8" stroke="#000" stroke-width="11" stroke-dasharray="62 58.6"/>
<g fill="#000">
<rect x="314.3" y="59.6" width="1755.4" height="10.8"/>
<rect x="314.3" y="1466" width="1755.4" height="11"/>
<rect x="314.3" y="59.6" width="11.7" height="1417.4"/>
<rect x="2056" y="59.6" width="11.3" height="1417.4"/>
</g>
<rect x="326" y="70.4" width="1.6" height="1395.6" fill="#777"/>
<rect x="2067.3" y="59.6" width="2.4" height="1417.4" fill="#555"/>
<g stroke="#000" stroke-width="10">
<line x1="295" y1="1471.3" x2="316" y2="1471.3"/>
<line x1="295" y1="1295.5" x2="316" y2="1295.5"/>
<line x1="295" y1="1119.7" x2="316" y2="1119.7"/>
<line x1="295" y1="943.9" x2="316" y2="943.9"/>
<line x1="295" y1="768.1" x2="316" y2="768.1"/>
<line x1="295" y1="592.4" x2="316" y2="592.4"/>
<line x1="295" y1="416.6" x2="316" y2="416.6"/>
<line x1="295" y1="240.8" x2="316" y2="240.8"/>
<line x1="295" y1="65.0" x2="316" y2="65.0"/>
<line x1="309" y1="1383.4" x2="316" y2="1383.4"/>
<line x1="309" y1="1207.6" x2="316" y2="1207.6"/>
<line x1="309" y1="1031.8" x2="316" y2="1031.8"/>
<line x1="309" y1="856.0" x2="316" y2="856.0"/>
<line x1="309" y1="680.3" x2="316" y2="680.3"/>
<line x1="309" y1="504.5" x2="316" y2="504.5"/>
<line x1="309" y1="328.7" x2="316" y2="328.7"/>
<line x1="309" y1="152.9" x2="316" y2="152.9"/>
<line x1="320.5" y1="1470" x2="320.5" y2="1498"/>
<line x1="610.7" y1="1470" x2="610.7" y2="1498"/>
<line x1="900.8" y1="1470" x2="900.8" y2="1498"/>
<line x1="1191.0" y1="1470" x2="1191.0" y2="1498"/>
<line x1="1481.2" y1="1470" x2="1481.2" y2="1498"/>
<line x1="1771.3" y1="1470" x2="1771.3" y2="1498"/>
<line x1="2061.5" y1="1470" x2="2061.5" y2="1498"/>
<line x1="465.6" y1="1470" x2="465.6" y2="1482.5"/>
<line x1="755.8" y1="1470" x2="755.8" y2="1482.5"/>
<line x1="1045.9" y1="1470" x2="1045.9" y2="1482.5"/>
<line x1="1336.1" y1="1470" x2="1336.1" y2="1482.5"/>
<line x1="1626.2" y1="1470" x2="1626.2" y2="1482.5"/>
<line x1="1916.4" y1="1470" x2="1916.4" y2="1482.5"/>
</g>
<g font-family="Liberation Serif, Times New Roman, serif" font-size="120" fill="#000">
<text x="273" y="1506.8" text-anchor="end">−5</text>
<text x="277" y="1331.0" text-anchor="end">0</text>
<text x="273" y="1155.2" text-anchor="end">5</text>
<text x="277" y="979.4" text-anchor="end">10</text>
<text x="273" y="803.6" text-anchor="end">15</text>
<text x="277" y="627.9" text-anchor="end">20</text>
<text x="273" y="452.1" text-anchor="end">25</text>
<text x="277" y="276.3" text-anchor="end">30</text>
<text x="273" y="100.5" text-anchor="end">35</text>
<text x="323.5" y="1607" text-anchor="middle">10</text>
<text x="613.7" y="1607" text-anchor="middle">15</text>
<text x="903.8" y="1607" text-anchor="middle">20</text>
<text x="1194.0" y="1607" text-anchor="middle">25</text>
<text x="1484.2" y="1607" text-anchor="middle">30</text>
<text x="1774.3" y="1607" text-anchor="middle">35</text>
<text x="2064.5" y="1607" text-anchor="middle">40</text>
</g>
<text font-family="Liberation Serif, Times New Roman, serif" font-size="119.5" x="772" y="1751" fill="#000">Frequency (GHz)</text>
<text font-family="Liberation Serif, Times New Roman, serif" font-size="119.5" transform="translate(107,1252) rotate(-90)" fill="#000">RCS Reduction(dB)</text>
<rect x="388" y="103.4" width="232" height="16" rx="5" fill="#000000"/>
<text font-family="Liberation Serif, Times New Roman, serif" font-size="96" x="634.5" y="143.9" fill="#000">θ = 0°</text>
<rect x="388" y="242.0" width="232" height="16" rx="5" fill="#ff0000"/>
<text font-family="Liberation Serif, Times New Roman, serif" font-size="96" x="634.5" y="282.5" fill="#000">θ = 10°</text>
<rect x="388" y="381.0" width="232" height="16" rx="5" fill="#0000ff"/>
<text font-family="Liberation Serif, Times New Roman, serif" font-size="96" x="634.5" y="421.5" fill="#000">θ = 20°</text>
<rect x="388" y="520.0" width="232" height="16" rx="5" fill="#ff00ff"/>
<text font-family="Liberation Serif, Times New Roman, serif" font-size="96" x="634.5" y="560.5" fill="#000">θ = 30°</text>
<rect x="388" y="658.7" width="232" height="16" rx="5" fill="#00ff00"/>
<text font-family="Liberation Serif, Times New Roman, serif" font-size="96" x="634.5" y="699.2" fill="#000">θ = 40°</text>
</svg>
</body></html>
